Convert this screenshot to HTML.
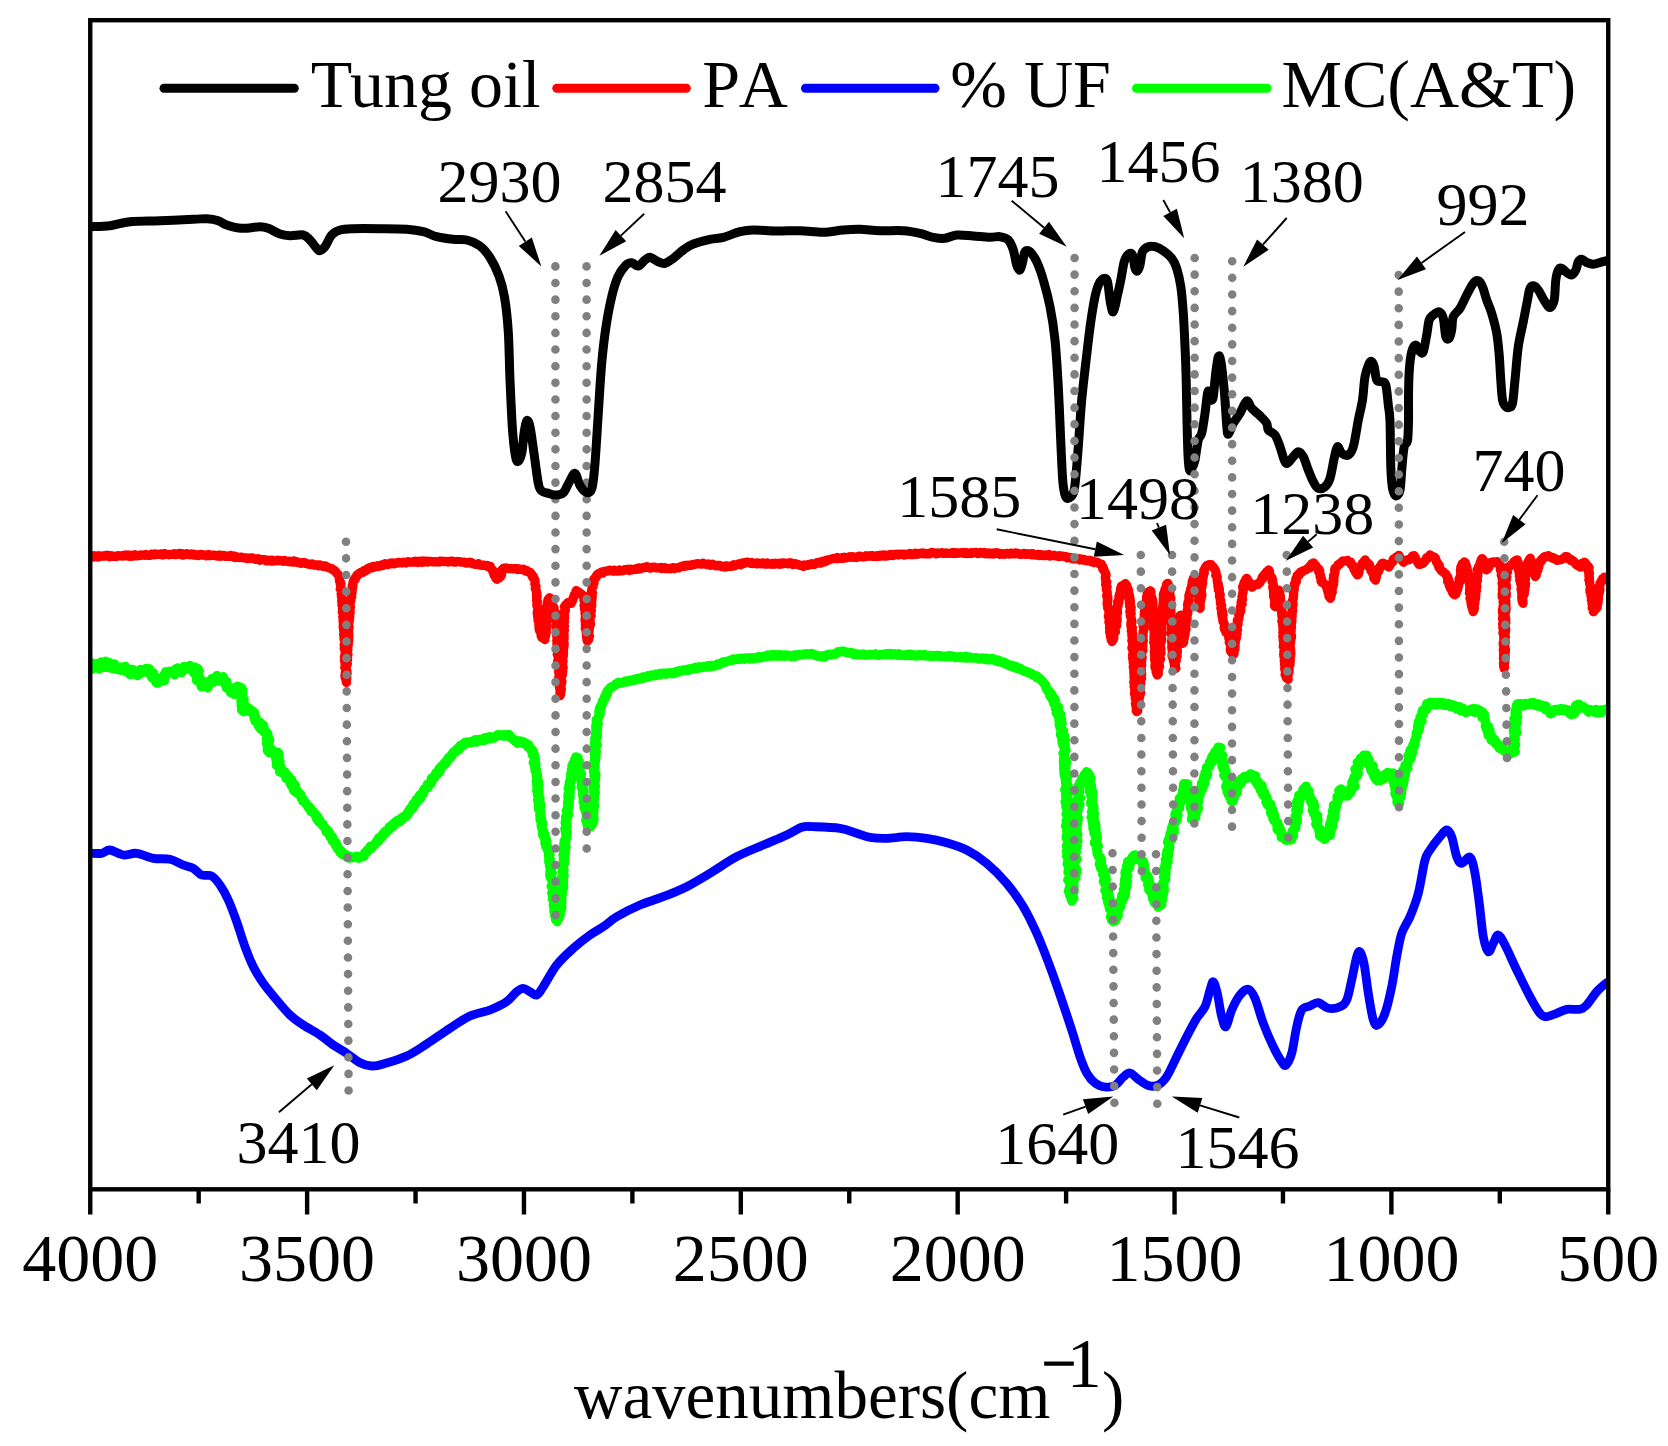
<!DOCTYPE html>
<html lang="en"><head><meta charset="utf-8"><title>FTIR spectra</title>
<style>html,body{margin:0;padding:0;background:#fff}body{width:1668px;height:1446px;overflow:hidden}</style></head>
<body>
<svg width="1668" height="1446" viewBox="0 0 1668 1446" style="display:block">
<rect width="1668" height="1446" fill="#fff"/>
<defs><clipPath id="cp"><rect x="90.25" y="20.20" width="1518.00" height="1169.10"/></clipPath></defs>
<g fill="none" stroke-linejoin="round" stroke-linecap="round" clip-path="url(#cp)">
<path d="M90.0,557.1L91.0,556.3L92.0,556.6L93.0,557.1L94.0,555.8L95.0,556.5L96.0,555.9L97.0,556.9L98.0,557.1L99.0,555.8L100.0,556.4L101.0,556.3L102.0,556.2L103.0,555.8L104.0,556.2L105.0,555.7L106.0,556.0L107.0,555.3L108.0,556.2L109.0,555.7L110.0,556.7L111.0,555.8L112.0,556.4L113.0,556.0L114.0,556.4L115.0,556.2L116.0,556.6L117.0,556.1L118.0,555.5L119.0,555.8L120.0,555.8L121.0,556.0L122.0,555.6L123.0,556.1L124.0,555.5L125.0,555.0L126.0,555.8L127.0,555.8L128.0,555.1L129.0,556.2L130.0,555.6L131.0,555.2L132.0,556.2L133.0,555.4L134.0,555.5L135.0,554.8L136.0,555.9L137.0,555.8L138.0,555.5L139.0,555.3L140.0,555.7L141.0,554.8L142.0,555.1L143.0,554.9L144.0,555.3L145.0,555.0L146.0,554.5L147.0,555.0L148.0,555.4L149.0,555.4L150.0,555.4L151.0,554.3L152.0,554.0L153.0,554.4L154.0,554.9L155.0,554.0L156.0,554.6L157.0,554.2L158.0,554.5L159.0,554.5L160.0,554.3L161.0,554.0L162.0,554.9L163.0,554.0L164.0,554.9L165.0,553.6L166.0,554.5L167.0,554.5L168.0,554.3L169.0,554.9L170.0,554.3L171.0,554.4L172.0,554.3L173.0,554.3L174.0,553.7L175.0,554.7L176.0,554.6L177.0,554.6L178.0,553.9L179.0,553.3L180.0,553.4L181.0,554.8L182.0,553.7L183.0,555.0L184.1,554.3L185.1,554.1L186.1,554.5L187.1,553.8L188.1,554.5L189.1,554.3L190.1,554.8L191.2,553.8L192.2,554.2L193.2,555.0L194.2,554.2L195.2,555.2L196.2,554.6L197.2,555.2L198.2,555.6L199.3,555.2L200.3,554.3L201.3,554.5L202.3,555.2L203.4,555.0L204.4,554.8L205.4,555.4L206.4,555.9L207.4,555.3L208.5,554.5L209.4,555.6L210.4,555.7L211.5,555.5L212.5,555.2L213.5,555.1L214.5,555.1L215.5,555.7L216.5,555.6L217.5,556.1L218.6,555.1L219.6,555.2L220.6,556.3L221.6,555.3L222.6,555.7L223.7,555.3L224.7,556.2L225.7,556.4L226.6,556.5L227.7,555.8L228.7,556.1L229.7,556.4L230.8,555.5L231.8,556.2L232.7,556.6L233.8,556.1L234.7,557.6L235.8,556.5L236.7,557.3L237.8,557.4L238.7,557.6L239.8,557.5L240.8,557.1L241.8,557.1L242.8,557.6L243.8,558.0L244.8,557.9L245.9,557.8L246.8,558.6L247.9,558.0L248.8,558.4L249.8,558.6L250.9,557.8L251.9,557.9L253.0,558.1L253.9,558.9L254.9,559.2L255.9,559.5L256.9,559.0L258.0,558.6L259.0,559.0L259.8,560.3L260.9,559.5L261.9,559.7L263.0,559.6L264.0,559.5L265.0,559.5L265.9,560.8L266.9,560.9L267.9,560.8L269.0,560.1L270.0,560.1L271.0,560.9L272.1,560.0L273.1,561.2L274.1,560.9L275.2,560.8L276.2,560.7L277.3,560.2L278.3,560.8L279.4,560.4L280.4,560.5L281.4,560.6L282.5,561.0L283.5,561.3L284.6,560.4L285.6,561.2L286.6,561.2L287.6,561.7L288.7,561.4L289.7,561.0L290.7,561.5L291.8,562.2L292.8,561.8L293.9,560.9L294.8,562.2L295.9,562.1L296.9,561.7L297.8,562.7L298.8,562.6L299.9,562.6L300.8,563.3L301.8,563.0L302.9,562.6L303.9,563.1L304.9,562.6L305.8,563.7L306.8,563.5L307.8,563.9L308.8,564.3L309.8,564.1L310.8,564.6L311.9,563.8L312.7,565.0L313.8,564.9L314.7,565.3L315.8,564.8L316.8,565.0L317.8,564.9L318.7,565.8L319.9,564.9L320.8,565.6L321.9,565.6L322.8,566.4L324.1,565.8L325.2,565.9L326.0,567.0L327.1,566.8L328.1,567.5L329.1,567.8L330.1,568.1L331.1,568.7L332.1,568.6L332.6,569.7L333.7,570.1L334.8,570.5L335.1,571.6L336.1,572.2L336.6,573.2L337.1,573.7L338.2,574.5L338.6,575.5L338.8,576.5L339.6,577.4L339.3,578.6L339.6,579.6L339.4,580.7L339.8,581.7L340.7,582.5L341.0,583.6L340.3,584.7L340.8,585.7L340.9,586.7L341.0,587.8L340.3,588.9L341.6,589.8L341.2,590.8L342.1,591.8L341.6,592.8L341.1,593.9L341.4,594.9L341.3,595.9L341.5,597.0L341.7,598.0L342.1,599.0L341.9,600.0L341.7,601.0L341.8,602.1L342.1,603.1L342.7,604.0L342.0,605.1L343.1,606.0L342.7,607.1L343.4,608.1L342.5,609.1L343.1,610.1L343.6,611.1L342.4,612.2L343.2,613.2L342.9,614.2L343.6,615.2L343.5,616.2L342.8,617.2L343.5,618.2L343.1,619.2L343.3,620.2L343.0,621.3L343.4,622.3L343.6,623.3L343.4,624.3L343.9,625.3L343.1,626.3L343.3,627.3L343.4,628.3L344.2,629.3L343.6,630.4L344.4,631.3L344.4,632.3L344.0,633.4L343.6,634.4L344.3,635.4L344.6,636.4L343.9,637.4L344.0,638.5L344.1,639.5L344.7,640.4L344.7,641.5L345.1,642.4L345.3,643.5L344.1,644.5L345.4,645.5L344.3,646.5L344.5,647.5L344.2,648.5L344.6,649.5L345.1,650.5L345.1,651.5L345.4,652.5L345.0,653.5L345.4,654.5L345.2,655.5L344.4,656.5L345.6,657.5L344.4,658.5L345.2,659.5L344.5,660.5L344.6,661.5L345.7,662.5L345.8,663.5L345.1,664.5L345.6,665.5L345.6,666.5L344.9,667.5L346.2,668.5L346.2,669.5L346.2,670.5L346.4,671.5L345.3,672.5L345.2,673.5L345.8,674.5L345.0,675.5L346.1,676.5L345.2,677.5L346.1,678.5L345.8,679.5L346.5,680.5L346.1,681.5L346.5,682.5L346.2,681.5L346.4,680.5L346.6,679.5L346.8,678.5L346.7,677.5L346.8,676.5L345.6,675.5L346.3,674.5L347.1,673.5L346.4,672.5L345.9,671.5L346.8,670.5L346.0,669.5L346.1,668.5L346.2,667.5L346.5,666.5L346.6,665.5L347.2,664.5L347.4,663.5L346.8,662.5L347.0,661.5L346.7,660.5L347.7,659.5L346.6,658.5L347.2,657.5L347.7,656.5L347.8,655.5L348.0,654.5L347.3,653.5L347.3,652.5L346.9,651.5L347.6,650.5L347.9,649.5L347.3,648.5L347.4,647.5L348.0,646.5L347.7,645.5L348.3,644.5L347.5,643.5L348.4,642.5L348.4,641.5L348.7,640.5L348.8,639.5L348.7,638.5L348.2,637.4L349.0,636.5L348.7,635.4L348.3,634.4L348.8,633.4L348.5,632.4L348.7,631.4L348.1,630.3L348.8,629.3L348.4,628.3L349.1,627.3L348.2,626.3L348.5,625.3L348.4,624.3L348.9,623.3L348.2,622.2L349.2,621.3L349.5,620.3L348.8,619.2L349.5,618.2L349.7,617.2L349.8,616.2L349.3,615.2L349.6,614.2L350.1,613.2L350.2,612.2L349.5,611.1L350.1,610.2L349.8,609.1L349.7,608.1L350.4,607.2L349.4,606.0L350.1,605.1L349.9,604.0L349.6,603.0L350.1,602.0L350.9,601.0L350.8,600.0L350.9,599.0L351.0,598.0L351.7,597.0L351.3,595.9L350.9,594.9L351.4,593.9L352.1,592.9L351.6,591.8L352.0,590.9L351.6,589.8L352.5,588.8L352.3,587.8L352.9,586.8L352.2,585.7L352.8,584.9L353.1,584.0L353.0,582.8L353.1,581.8L353.9,581.0L353.9,579.9L355.2,579.5L355.0,578.2L355.5,577.4L356.6,576.8L356.6,575.7L357.1,574.9L358.1,574.4L359.1,574.3L359.5,572.9L360.6,572.6L361.4,572.0L362.8,572.4L363.5,571.6L364.0,570.4L365.5,571.0L366.1,570.0L367.2,569.9L367.6,568.5L368.7,568.4L369.5,567.5L370.5,567.4L371.7,567.9L372.7,567.7L373.4,566.5L374.6,567.1L375.5,566.5L376.4,565.9L377.4,565.7L378.6,566.5L379.4,565.6L380.5,565.9L381.4,565.0L382.5,565.6L383.3,564.4L384.3,564.4L385.2,563.7L386.4,564.4L387.5,564.7L388.3,563.8L389.4,564.0L390.3,563.2L391.4,563.7L392.4,562.8L393.5,563.3L394.5,563.8L395.5,563.2L396.6,562.8L397.6,563.1L398.6,562.3L399.7,562.6L400.7,562.8L401.8,563.0L402.8,562.6L403.8,562.1L404.8,562.6L405.9,563.0L406.9,562.3L407.9,561.7L408.9,561.8L409.9,562.1L410.9,562.2L411.9,561.8L412.9,562.2L413.9,562.0L414.9,561.3L415.9,562.1L416.9,561.5L418.0,562.6L419.0,562.0L419.9,561.2L420.9,561.3L422.0,562.2L423.0,561.2L424.0,562.1L425.0,561.4L426.0,561.0L427.0,561.0L428.0,562.2L429.0,561.3L430.0,561.3L431.0,561.4L432.0,561.6L433.0,562.0L434.0,562.0L435.0,561.7L436.0,562.0L437.0,561.9L438.0,561.6L439.0,562.0L440.0,561.1L441.0,561.3L442.0,561.5L443.0,561.3L444.0,561.6L445.0,561.4L446.0,561.3L447.0,561.6L448.0,562.1L449.0,561.9L450.0,561.2L451.0,561.0L452.0,561.1L453.0,561.3L454.0,562.2L455.0,562.2L456.0,562.0L457.0,561.4L458.0,561.5L459.0,561.6L460.0,561.6L460.9,562.2L462.0,562.0L463.0,562.0L464.0,562.1L465.0,562.5L465.9,563.1L467.0,562.7L468.0,562.6L469.0,563.0L470.1,562.1L471.2,562.4L472.1,562.9L473.0,564.0L474.1,563.8L475.1,564.3L476.1,564.4L477.2,564.1L478.4,563.7L479.2,565.0L480.3,565.1L481.3,564.9L482.3,565.4L483.4,565.0L484.4,565.0L485.3,565.5L486.3,566.0L487.4,565.4L488.1,566.8L489.2,566.6L490.3,566.3L490.5,567.1L491.1,568.0L491.6,569.0L492.2,569.9L493.2,570.7L492.9,571.9L493.5,572.9L493.9,573.9L494.0,575.1L495.0,575.8L495.5,576.9L495.7,578.2L496.9,578.7L496.8,579.3L497.7,578.5L499.1,578.1L499.5,576.8L501.1,576.3L501.5,575.2L500.9,573.9L501.7,573.0L501.8,571.8L501.3,570.6L503.1,569.9L502.7,569.0L503.7,568.2L505.0,569.0L506.1,567.9L507.3,568.2L508.3,568.6L509.3,568.7L510.3,568.7L511.3,568.6L512.3,568.9L513.3,568.7L514.3,568.6L515.3,568.6L516.3,568.5L517.2,569.5L518.3,568.6L519.3,569.1L520.3,569.5L521.3,569.3L522.3,569.3L523.4,569.2L524.3,569.9L525.0,570.8L526.3,570.3L526.8,571.6L527.8,571.8L528.9,571.9L530.1,572.2L530.7,573.1L531.5,573.9L532.0,574.8L532.0,576.1L533.3,576.5L533.1,578.0L534.1,578.6L534.8,579.6L535.1,580.6L535.2,581.7L534.9,582.8L534.8,583.9L535.2,584.9L535.9,585.9L536.0,587.0L535.2,588.2L535.6,589.2L536.0,590.2L536.5,591.2L536.3,592.3L536.9,593.3L536.4,594.4L536.7,595.4L537.2,596.4L536.5,597.4L536.6,598.4L536.8,599.4L536.6,600.5L537.5,601.4L537.2,602.5L536.8,603.5L536.9,604.5L536.8,605.6L537.2,606.6L538.3,607.5L538.1,608.6L537.8,609.6L537.5,610.6L537.5,611.7L537.1,612.7L537.3,613.7L537.3,614.8L538.2,615.7L537.6,616.7L538.2,617.7L539.1,618.6L538.1,619.7L538.0,620.7L539.2,621.6L539.4,622.6L539.0,623.6L538.8,624.7L539.2,625.6L539.7,626.6L538.9,627.7L539.1,628.7L539.2,629.8L539.6,630.8L541.0,631.6L541.0,632.7L541.2,633.9L541.0,635.1L541.2,636.3L541.8,637.5L543.1,637.9L543.8,638.9L545.0,639.6L545.0,638.6L545.2,637.6L544.6,636.4L545.8,635.5L545.8,634.5L545.9,633.4L546.3,632.4L545.9,631.3L545.9,630.2L546.4,629.2L545.8,628.1L546.3,627.1L546.2,626.1L546.8,625.1L546.3,624.0L545.7,623.0L546.1,622.0L547.0,621.0L545.8,619.9L546.4,618.9L547.3,618.0L546.9,616.9L546.0,615.9L547.2,614.9L547.4,613.9L546.9,612.8L546.3,611.8L547.5,610.8L546.3,609.8L547.2,608.8L546.5,607.7L546.9,606.7L546.8,605.7L547.9,604.9L547.0,603.6L548.3,602.9L547.6,601.7L548.1,600.8L547.9,599.7L549.1,599.0L549.5,597.7L549.2,599.0L549.9,599.9L550.6,600.7L551.3,601.6L551.7,602.6L552.1,603.5L551.7,604.9L552.1,605.9L553.3,606.5L553.9,607.5L554.1,608.5L553.9,609.7L554.1,610.8L554.5,611.8L555.3,612.6L556.0,613.5L556.2,614.7L555.9,615.7L556.6,616.7L556.4,617.8L556.2,618.8L556.8,619.9L556.9,620.9L556.0,622.0L556.3,623.0L556.5,624.0L556.5,625.1L556.0,626.1L555.9,627.2L556.4,628.2L556.6,629.2L556.4,630.3L556.6,631.3L556.2,632.4L556.7,633.4L556.3,634.4L557.2,635.4L556.8,636.5L557.2,637.5L557.4,638.5L556.8,639.6L556.8,640.7L557.3,641.7L557.0,642.7L556.9,643.8L557.1,644.8L557.7,645.8L557.8,646.8L557.2,647.9L558.0,648.9L558.3,649.9L557.4,651.0L557.5,652.1L557.6,653.1L557.2,654.2L558.3,655.1L557.9,656.2L558.1,657.2L558.2,658.3L558.2,659.3L558.7,660.3L557.6,661.4L558.1,662.4L558.7,663.4L558.8,664.5L557.8,665.6L558.0,666.6L558.4,667.6L558.7,668.6L559.4,669.7L558.7,670.7L558.7,671.8L558.7,672.8L559.1,673.8L559.2,674.9L559.3,675.9L559.2,676.9L558.6,678.0L558.8,679.0L559.4,680.1L559.5,681.1L559.3,682.1L559.9,683.1L558.6,684.2L560.2,685.2L559.3,686.3L560.1,687.3L559.6,688.4L560.4,689.3L560.3,690.4L560.3,691.4L560.4,692.4L560.6,693.5L560.6,694.5L560.2,695.6L560.2,694.6L559.9,693.5L560.8,692.6L560.0,691.5L560.1,690.5L561.4,689.6L561.3,688.6L560.2,687.5L560.7,686.5L560.9,685.6L561.4,684.6L560.7,683.5L560.8,682.5L561.9,681.6L561.2,680.5L561.4,679.5L560.8,678.5L561.1,677.5L561.6,676.5L562.1,675.6L562.5,674.6L561.9,673.5L562.5,672.6L562.8,671.6L561.7,670.5L562.7,669.5L562.5,668.5L563.2,667.6L562.5,666.5L562.5,665.5L562.7,664.5L562.1,663.5L562.7,662.5L563.1,661.5L562.7,660.5L562.3,659.4L562.9,658.4L563.0,657.4L563.3,656.4L562.7,655.4L563.5,654.4L563.6,653.4L562.6,652.4L563.2,651.4L563.6,650.4L563.0,649.3L563.4,648.3L564.0,647.3L563.7,646.3L563.3,645.3L564.1,644.3L563.0,643.3L564.1,642.3L563.0,641.2L563.3,640.2L563.4,639.2L564.1,638.2L562.9,637.2L563.0,636.2L564.2,635.2L563.2,634.2L563.6,633.2L563.9,632.2L564.0,631.1L564.5,630.2L563.9,629.1L563.8,628.1L563.4,627.1L564.4,626.1L563.5,625.0L563.8,623.9L563.8,622.9L564.4,621.9L563.7,620.8L563.9,619.8L564.5,618.7L564.7,617.7L563.9,616.6L564.6,615.6L563.9,614.5L564.6,613.5L563.9,612.4L564.9,611.4L565.4,610.4L565.3,609.3L564.8,608.2L564.4,606.9L565.5,606.4L565.4,605.1L566.3,604.4L567.5,604.0L567.8,602.5L568.9,603.6L570.2,603.4L571.2,603.4L571.4,602.3L572.3,601.4L572.6,600.3L573.1,599.3L573.0,598.1L573.5,597.1L574.4,596.2L574.2,595.0L575.4,594.4L575.4,593.3L575.8,592.4L575.8,591.3L576.3,590.6L577.0,591.4L578.1,591.7L579.0,592.2L579.7,593.1L580.8,593.5L581.4,594.4L582.4,594.9L582.8,595.9L584.2,596.1L584.7,597.3L584.7,598.3L583.9,599.4L583.9,600.4L584.7,601.4L585.3,602.4L585.4,603.4L584.8,604.5L584.0,605.6L585.2,606.5L585.1,607.6L584.4,608.6L585.3,609.6L585.2,610.7L585.0,611.7L585.1,612.7L585.0,613.7L585.5,614.8L586.0,615.8L585.8,616.8L585.1,617.9L585.2,618.9L585.0,619.9L585.0,621.0L585.3,622.0L585.9,623.0L586.2,624.0L585.3,625.1L586.4,626.0L585.9,627.1L585.3,628.2L586.4,629.2L586.5,630.2L586.0,631.3L586.7,632.3L586.5,633.4L586.3,634.5L586.9,635.5L586.6,636.6L586.6,637.6L587.2,638.7L586.9,639.7L587.4,641.1L587.3,639.7L588.8,639.5L588.5,638.3L588.6,637.3L589.6,636.3L588.5,635.2L588.5,634.2L588.9,633.1L588.5,632.1L589.2,631.1L589.2,630.1L589.3,629.0L589.2,628.0L589.6,627.0L589.8,626.0L589.6,624.9L590.6,624.0L590.2,622.9L589.9,621.9L590.1,620.9L590.1,619.8L589.9,618.8L589.8,617.7L590.0,616.7L591.1,615.8L590.4,614.7L590.5,613.7L590.9,612.6L590.7,611.6L591.4,610.6L590.5,609.5L591.2,608.5L590.5,607.4L591.6,606.4L591.3,605.4L591.8,604.4L590.6,603.3L591.1,602.2L591.1,601.2L591.9,600.2L591.2,599.1L591.4,598.1L592.2,597.1L591.2,596.0L591.8,595.0L592.1,594.0L592.6,593.0L591.4,591.8L591.6,590.8L591.7,589.7L591.9,588.7L592.2,587.7L593.1,586.8L592.4,585.6L592.7,584.6L593.3,583.7L594.1,582.8L593.7,581.6L593.5,580.5L593.7,579.5L594.4,578.5L595.1,577.7L596.3,577.3L596.3,575.9L596.9,575.0L597.7,574.2L598.6,573.6L599.7,573.6L600.5,572.4L601.5,572.0L602.9,573.0L603.8,572.2L604.7,571.2L605.8,571.2L606.9,571.1L607.9,571.2L609.0,570.3L610.0,570.2L611.1,570.8L612.1,571.0L613.2,571.2L614.2,570.0L615.3,571.1L616.3,571.1L617.3,570.9L618.4,571.1L619.4,570.0L620.5,570.8L621.5,570.5L622.6,570.8L623.6,570.4L624.7,569.6L625.7,569.5L626.8,569.9L627.8,569.2L629.0,570.6L630.0,569.8L630.9,569.1L632.1,569.8L633.2,569.7L634.2,569.2L635.2,569.3L636.3,569.4L637.2,568.2L638.4,569.2L639.3,567.9L640.5,568.8L641.5,568.2L642.5,567.8L643.5,567.4L644.6,567.7L645.7,567.5L646.7,566.6L647.7,567.0L648.7,567.3L649.7,568.1L650.8,568.1L651.8,567.5L652.9,567.0L653.9,567.5L654.9,567.2L655.9,567.9L656.9,568.0L657.9,568.0L659.0,567.8L660.0,567.6L661.0,567.3L662.0,568.5L663.1,567.7L664.1,568.5L665.1,567.8L666.1,568.7L667.1,568.7L668.2,568.5L669.2,568.4L670.2,568.9L671.2,568.6L672.3,567.7L673.2,567.6L674.4,568.7L675.3,568.0L676.3,567.9L677.3,567.7L678.4,568.0L679.3,567.3L680.2,567.1L681.1,566.4L682.1,566.0L683.2,566.4L684.2,566.5L685.0,565.4L686.0,565.3L687.2,565.9L688.1,565.2L689.1,565.3L690.2,565.5L691.2,565.4L692.1,564.7L693.0,564.4L694.1,564.7L695.1,564.4L696.0,564.0L697.0,563.7L698.0,563.5L699.1,564.0L699.9,563.8L700.9,564.1L702.0,564.1L703.1,563.2L704.1,564.0L705.1,564.0L706.1,564.3L707.1,564.7L708.3,564.0L709.2,564.8L710.2,565.3L711.2,565.2L712.4,564.3L713.3,565.1L714.4,564.8L715.4,565.7L716.4,565.9L717.4,565.7L718.5,565.3L719.6,565.3L720.5,566.1L721.5,566.6L722.6,566.2L723.6,566.6L724.6,567.1L725.8,566.0L726.7,566.8L727.6,566.0L728.7,566.4L729.8,566.5L730.7,566.1L731.7,565.8L732.8,566.1L733.6,564.7L734.8,565.7L735.7,564.9L736.7,564.5L737.7,564.5L738.6,563.9L739.6,563.8L740.9,564.8L741.8,564.3L742.6,562.9L743.7,563.3L744.7,563.3L745.6,562.4L746.7,562.6L747.8,562.1L748.8,562.4L749.8,562.8L750.8,563.3L751.8,562.5L752.8,563.6L753.9,563.2L754.9,563.4L755.9,563.0L756.9,563.9L758.0,563.1L759.0,563.2L760.0,563.8L761.0,563.0L762.1,563.0L763.1,562.9L764.1,564.1L765.1,563.8L766.1,564.2L767.2,562.9L768.2,564.0L769.2,563.5L770.2,563.9L771.2,564.3L772.3,563.3L773.3,563.5L774.4,564.2L775.4,563.2L776.4,563.9L777.5,563.4L778.5,563.4L779.6,564.3L780.6,563.4L781.6,562.9L782.7,563.8L783.7,562.9L784.8,563.3L785.8,563.0L786.9,563.0L787.9,563.9L789.0,563.6L790.1,562.7L791.1,563.0L792.0,563.7L792.9,564.7L794.2,563.6L795.2,563.7L796.3,564.0L797.2,564.3L798.3,564.5L799.2,565.1L800.2,565.4L801.3,565.3L802.3,565.7L803.4,566.5L804.1,565.0L805.2,565.2L806.2,565.1L807.3,565.5L808.3,565.5L809.1,564.3L810.1,564.2L811.1,564.3L812.0,563.6L813.2,564.3L814.2,564.5L815.1,563.7L816.1,563.4L816.9,562.7L818.0,562.9L819.1,563.2L819.8,562.0L821.1,562.9L821.9,562.1L822.7,561.2L823.8,561.6L825.0,561.8L825.8,561.2L826.5,560.1L827.6,560.3L828.5,559.8L829.6,559.8L830.5,559.3L831.4,558.9L832.5,559.0L833.3,558.6L834.3,558.5L835.4,558.7L836.4,557.9L837.4,557.4L838.5,558.6L839.5,558.4L840.5,558.0L841.6,558.5L842.5,557.5L843.6,558.2L844.6,557.2L845.6,557.9L846.7,557.9L847.7,557.3L848.7,557.2L849.7,556.7L850.8,557.4L851.8,556.8L852.8,556.7L853.9,557.3L854.9,557.0L855.9,557.0L857.0,557.5L858.0,557.0L858.9,556.3L860.0,556.0L861.0,556.7L862.0,556.9L863.0,557.0L864.1,557.0L865.1,556.8L866.0,555.7L867.1,556.2L868.1,556.0L869.1,555.8L870.1,556.2L871.1,555.6L872.1,555.7L873.1,556.4L874.1,556.1L875.2,556.3L876.1,556.0L877.1,555.6L878.2,556.5L879.2,556.1L880.2,555.2L881.2,556.1L882.2,555.6L883.2,555.0L884.2,555.9L885.2,555.2L886.3,556.0L887.2,555.1L888.3,555.3L889.3,555.6L890.2,554.5L891.3,554.8L892.3,554.7L893.3,555.6L894.3,554.3L895.3,554.5L896.3,554.7L897.3,554.1L898.4,554.9L899.3,554.1L900.4,554.5L901.4,554.2L902.4,554.0L903.5,555.1L904.4,554.5L905.5,554.9L906.4,554.1L907.5,554.6L908.5,554.2L909.5,553.6L910.5,554.7L911.5,553.5L912.6,554.7L913.6,554.7L914.6,554.2L915.5,553.4L916.6,554.4L917.6,553.8L918.6,554.1L919.6,553.5L920.6,553.2L921.6,553.6L922.6,552.9L923.7,553.2L924.7,553.9L925.7,553.4L926.7,553.7L927.7,553.9L928.7,553.4L929.7,553.9L930.7,553.2L931.7,552.4L932.7,552.7L933.8,553.0L934.8,552.8L935.8,553.8L936.8,553.0L937.8,552.9L938.8,553.3L939.8,553.2L940.8,553.1L941.8,552.6L942.9,553.5L943.9,553.4L944.9,553.1L945.9,552.8L946.9,553.5L947.9,553.4L948.9,553.4L949.9,553.1L950.9,552.8L951.9,553.4L952.9,552.3L954.0,553.4L955.0,553.3L956.0,552.7L957.0,553.3L958.0,552.8L959.0,553.2L960.0,552.8L961.0,552.9L962.0,552.5L963.0,553.3L964.0,553.5L965.1,552.3L966.1,552.6L967.1,553.5L968.1,553.2L969.1,553.2L970.1,553.6L971.1,552.8L972.1,553.4L973.1,552.6L974.1,552.7L975.1,552.6L976.2,552.3L977.1,553.4L978.2,553.6L979.2,553.4L980.2,552.3L981.2,552.5L982.2,553.2L983.2,552.8L984.2,552.5L985.2,553.8L986.2,553.5L987.3,552.9L988.2,553.9L989.3,552.9L990.3,553.3L991.3,553.8L992.3,553.2L993.3,554.1L994.3,552.9L995.3,553.5L996.4,552.7L997.4,552.8L998.4,553.1L999.4,554.2L1000.4,553.5L1001.4,554.1L1002.4,553.6L1003.4,553.5L1004.4,554.3L1005.4,553.9L1006.5,553.4L1007.5,553.3L1008.5,554.0L1009.5,554.2L1010.5,553.1L1011.5,553.2L1012.5,553.5L1013.5,553.9L1014.6,553.9L1015.6,553.0L1016.6,553.7L1017.6,553.2L1018.6,553.4L1019.6,554.3L1020.6,554.3L1021.6,554.2L1022.6,554.2L1023.7,553.4L1024.7,553.3L1025.7,554.4L1026.7,554.4L1027.7,553.7L1028.7,553.9L1029.7,554.4L1030.8,553.8L1031.7,555.0L1032.8,553.7L1033.7,555.0L1034.8,554.8L1035.7,555.1L1036.8,554.7L1037.8,554.4L1038.8,554.3L1039.8,555.6L1040.8,554.7L1041.8,554.8L1042.8,555.3L1043.8,555.6L1044.9,555.0L1045.8,555.5L1046.9,554.9L1047.9,555.1L1048.9,554.6L1049.9,556.0L1050.9,555.7L1051.9,555.6L1052.9,555.6L1054.0,555.1L1054.9,555.8L1056.0,555.8L1057.0,556.0L1058.0,556.4L1058.9,556.7L1060.0,555.7L1061.0,556.3L1062.2,556.0L1063.2,556.2L1064.2,556.5L1065.3,556.6L1066.3,556.7L1067.2,557.8L1068.4,557.4L1069.5,557.3L1070.5,557.6L1071.5,557.8L1072.4,558.9L1073.6,558.5L1074.5,559.1L1075.7,558.8L1076.7,558.8L1077.8,558.9L1078.9,558.7L1079.8,559.8L1081.0,558.9L1081.9,559.5L1082.9,560.1L1084.1,559.4L1085.0,560.0L1086.0,560.7L1087.0,560.9L1088.2,560.3L1089.2,560.6L1090.3,560.3L1091.1,561.8L1092.2,561.6L1093.3,561.4L1094.1,562.6L1095.3,562.3L1096.5,562.0L1097.6,562.2L1098.4,563.0L1099.3,563.8L1100.3,564.3L1101.4,564.0L1101.7,565.1L1102.5,565.9L1102.8,566.9L1103.4,567.8L1102.8,569.1L1103.8,569.9L1104.5,570.8L1104.7,571.9L1105.4,572.7L1105.7,573.7L1106.1,574.9L1106.0,575.9L1105.3,577.0L1105.4,578.0L1105.5,579.0L1105.5,580.0L1106.1,581.0L1106.8,581.9L1106.0,583.0L1105.6,584.0L1105.7,585.0L1106.5,586.0L1107.1,586.9L1106.5,588.0L1106.3,589.0L1106.5,590.0L1107.0,591.0L1107.1,592.0L1107.3,593.0L1107.0,594.0L1106.9,595.0L1106.6,596.0L1107.9,596.9L1107.8,598.0L1107.9,599.0L1107.3,600.0L1107.9,601.0L1107.8,602.0L1107.1,603.1L1107.1,604.1L1107.3,605.0L1107.5,606.0L1108.3,607.0L1107.7,608.0L1108.7,609.0L1108.8,610.0L1108.8,611.0L1108.9,612.0L1109.1,613.0L1109.4,614.0L1108.5,615.1L1108.3,616.1L1108.9,617.1L1108.8,618.1L1109.5,619.1L1109.3,620.1L1109.8,621.1L1108.9,622.2L1109.2,623.2L1109.9,624.1L1110.1,625.1L1110.1,626.1L1109.5,627.2L1109.6,628.2L1110.6,629.1L1110.2,630.2L1109.6,631.3L1109.6,632.3L1110.8,633.2L1110.2,634.3L1111.0,635.2L1110.4,636.3L1111.0,637.3L1111.3,638.0L1111.1,639.6L1111.7,640.7L1112.1,641.6L1112.2,640.6L1113.3,639.8L1112.8,638.6L1113.8,637.8L1112.9,636.5L1113.3,635.6L1113.7,634.6L1114.3,633.7L1114.6,632.7L1115.5,631.9L1115.2,630.8L1114.6,629.6L1115.0,628.6L1115.5,627.7L1116.0,626.7L1116.6,625.8L1115.5,624.7L1116.6,623.7L1116.2,622.7L1116.2,621.7L1117.2,620.8L1117.0,619.8L1117.2,618.8L1117.0,617.7L1116.6,616.7L1116.4,615.7L1116.6,614.7L1117.2,613.7L1117.6,612.7L1116.7,611.6L1116.8,610.6L1117.5,609.7L1117.1,608.6L1117.4,607.7L1117.3,606.7L1118.1,605.7L1117.5,604.6L1117.9,603.7L1118.8,602.8L1117.7,601.6L1118.5,600.7L1118.7,599.7L1119.2,598.8L1119.9,597.9L1118.8,596.6L1120.4,595.9L1119.5,594.6L1119.6,593.6L1120.0,592.6L1120.3,591.6L1120.5,590.6L1121.3,589.8L1120.7,588.6L1122.1,587.8L1121.3,586.2L1123.0,586.5L1123.1,585.1L1124.6,585.2L1125.1,584.2L1125.3,583.5L1125.9,584.4L1126.7,585.2L1127.0,586.2L1126.7,587.4L1127.0,588.5L1128.3,589.2L1128.5,590.2L1128.6,591.3L1128.8,592.3L1128.8,593.3L1128.7,594.4L1129.5,595.3L1129.7,596.3L1128.9,597.4L1129.8,598.3L1130.2,599.3L1129.4,600.4L1130.5,601.3L1129.5,602.4L1130.5,603.4L1129.4,604.5L1130.4,605.4L1129.6,606.5L1131.1,607.4L1130.6,608.5L1131.1,609.4L1130.4,610.5L1129.8,611.6L1130.9,612.5L1131.2,613.5L1130.7,614.6L1130.2,615.6L1131.0,616.6L1131.1,617.6L1131.1,618.6L1131.6,619.6L1131.9,620.6L1131.1,621.7L1131.8,622.6L1130.8,623.7L1130.8,624.7L1131.0,625.7L1131.0,626.7L1132.3,627.7L1131.6,628.7L1132.2,629.7L1131.4,630.8L1132.4,631.7L1132.4,632.7L1132.9,633.7L1131.8,634.8L1132.4,635.8L1132.0,636.8L1132.9,637.8L1132.6,638.8L1132.7,639.8L1131.8,640.9L1133.0,641.8L1132.5,642.8L1133.1,643.8L1133.1,644.8L1132.8,645.9L1132.1,646.9L1131.9,647.9L1132.2,648.9L1133.2,649.9L1133.5,650.9L1133.1,651.9L1133.5,652.9L1132.8,654.0L1132.6,655.0L1132.7,656.0L1133.2,657.0L1132.6,658.0L1133.9,659.0L1133.0,660.0L1133.1,661.0L1133.3,662.0L1133.2,663.0L1133.7,664.0L1133.9,665.0L1133.5,666.1L1133.2,667.1L1133.5,668.1L1134.4,669.0L1134.3,670.1L1133.8,671.1L1134.4,672.1L1133.8,673.1L1134.0,674.1L1134.0,675.1L1134.2,676.1L1133.9,677.2L1134.1,678.2L1134.4,679.2L1134.5,680.2L1134.4,681.2L1133.8,682.2L1135.0,683.2L1134.4,684.2L1135.1,685.2L1134.0,686.3L1135.1,687.2L1135.1,688.2L1135.1,689.2L1134.6,690.3L1135.3,691.3L1135.4,692.3L1134.4,693.4L1134.6,694.4L1136.0,695.3L1135.8,696.3L1135.2,697.4L1135.2,698.5L1135.7,699.4L1136.6,700.4L1136.6,701.4L1136.3,702.5L1135.5,703.6L1136.5,704.5L1136.6,705.5L1135.9,706.6L1136.3,707.6L1137.1,708.6L1137.1,709.6L1136.2,710.8L1136.8,711.7L1137.8,710.8L1137.5,709.7L1137.2,708.6L1137.1,707.5L1138.4,706.7L1138.2,705.6L1137.8,704.5L1139.1,703.6L1139.2,702.6L1139.2,701.6L1138.5,700.4L1138.5,699.3L1139.2,698.4L1139.3,697.4L1139.8,696.4L1139.2,695.3L1139.7,694.3L1140.7,693.3L1140.8,692.3L1140.1,691.3L1139.7,690.3L1140.2,689.3L1140.2,688.3L1140.1,687.3L1140.3,686.3L1140.2,685.3L1140.7,684.3L1140.7,683.3L1140.5,682.3L1140.2,681.3L1140.3,680.3L1141.3,679.3L1141.6,678.3L1140.6,677.3L1140.4,676.3L1141.0,675.3L1141.7,674.3L1141.6,673.3L1141.2,672.3L1141.0,671.3L1141.5,670.3L1141.2,669.3L1141.1,668.3L1140.6,667.3L1141.4,666.3L1141.7,665.3L1141.4,664.3L1141.0,663.3L1141.7,662.3L1141.7,661.3L1141.6,660.3L1141.9,659.3L1142.0,658.3L1142.2,657.3L1141.1,656.3L1141.6,655.3L1141.7,654.3L1141.8,653.3L1141.7,652.3L1141.9,651.3L1143.0,650.3L1142.8,649.3L1141.7,648.3L1142.4,647.3L1142.9,646.3L1141.7,645.3L1141.9,644.3L1142.7,643.3L1143.1,642.3L1142.1,641.2L1143.4,640.3L1142.3,639.2L1142.2,638.2L1143.0,637.2L1143.1,636.2L1143.1,635.2L1142.8,634.2L1143.1,633.2L1143.4,632.2L1143.2,631.2L1143.8,630.2L1143.9,629.2L1144.0,628.2L1144.2,627.2L1143.2,626.1L1144.0,625.1L1144.1,624.1L1143.6,623.1L1144.6,622.1L1143.5,621.1L1144.0,620.1L1143.7,619.0L1144.9,618.1L1144.3,617.1L1144.7,616.1L1144.2,615.0L1145.2,614.1L1144.4,613.0L1144.3,612.0L1144.5,611.0L1144.9,610.0L1145.6,609.0L1145.1,607.9L1145.8,606.9L1145.8,605.9L1145.7,604.8L1145.4,603.7L1145.9,602.7L1146.1,601.6L1146.5,600.6L1146.4,599.5L1147.0,598.6L1146.5,597.4L1147.1,596.4L1147.7,595.5L1147.1,594.3L1147.7,593.5L1148.0,592.1L1149.2,591.6L1150.5,590.7L1150.9,591.6L1151.1,592.6L1150.6,593.8L1150.3,594.9L1151.0,595.8L1151.6,596.7L1150.9,597.9L1152.0,598.7L1151.6,599.8L1152.8,600.6L1152.4,601.7L1152.3,602.7L1153.1,603.7L1152.6,604.7L1152.2,605.8L1153.1,606.7L1152.7,607.8L1152.4,608.8L1153.6,609.7L1152.3,610.8L1153.7,611.8L1153.7,612.8L1153.0,613.8L1153.1,614.8L1152.6,615.9L1152.8,616.9L1153.7,617.8L1153.8,618.8L1153.4,619.9L1152.9,620.9L1153.8,621.9L1154.0,622.9L1154.0,623.9L1153.4,624.9L1153.2,625.9L1153.5,626.9L1153.1,628.0L1154.5,628.9L1154.0,630.0L1154.5,630.9L1154.0,632.0L1154.6,633.0L1154.1,634.0L1154.6,635.0L1154.0,636.0L1154.1,637.0L1153.9,638.0L1154.0,639.1L1154.0,640.1L1155.1,641.0L1153.7,642.1L1155.3,643.0L1154.3,644.1L1154.3,645.1L1154.5,646.1L1154.5,647.1L1155.2,648.1L1155.1,649.1L1154.7,650.1L1154.4,651.2L1154.3,652.2L1154.5,653.2L1154.8,654.2L1154.4,655.2L1155.3,656.2L1154.8,657.2L1155.4,658.2L1154.5,659.3L1154.8,660.3L1155.6,661.2L1155.1,662.3L1155.6,663.3L1155.1,664.3L1154.9,665.3L1155.1,666.3L1154.9,667.3L1156.3,668.2L1156.5,669.3L1156.6,670.5L1156.0,671.8L1156.4,672.9L1156.9,674.0L1157.3,675.0L1158.1,674.1L1158.4,673.1L1157.4,671.9L1158.2,671.0L1157.9,669.9L1158.7,669.0L1158.8,668.0L1158.9,667.0L1159.6,666.1L1158.9,665.0L1159.3,664.0L1159.1,662.9L1159.1,661.9L1159.4,660.9L1159.4,660.0L1160.6,659.0L1159.6,657.9L1159.5,656.9L1159.7,655.9L1160.2,654.9L1160.4,653.9L1161.2,652.9L1159.8,651.8L1160.2,650.8L1160.8,649.8L1161.1,648.8L1160.1,647.8L1160.1,646.8L1160.0,645.7L1160.3,644.7L1160.4,643.7L1161.0,642.7L1160.5,641.7L1161.6,640.7L1161.0,639.7L1161.7,638.7L1161.1,637.6L1160.9,636.6L1160.7,635.6L1161.4,634.6L1162.1,633.6L1161.9,632.6L1161.4,631.5L1161.0,630.5L1161.5,629.5L1161.3,628.5L1162.0,627.5L1162.0,626.5L1161.4,625.4L1161.6,624.4L1162.3,623.4L1161.3,622.3L1161.7,621.3L1162.2,620.3L1162.0,619.3L1161.7,618.3L1161.9,617.3L1161.6,616.3L1162.2,615.3L1163.0,614.4L1162.8,613.3L1162.7,612.3L1162.3,611.3L1162.7,610.3L1163.0,609.3L1162.9,608.3L1162.6,607.3L1163.0,606.3L1162.7,605.3L1162.9,604.3L1163.0,603.3L1163.8,602.3L1163.3,601.3L1163.4,600.3L1163.2,599.3L1163.3,598.3L1164.0,597.3L1164.2,596.3L1163.3,595.2L1163.3,594.2L1164.0,593.2L1164.1,592.2L1165.3,591.4L1165.7,590.5L1165.1,589.2L1166.3,588.5L1166.4,587.4L1166.8,586.4L1166.4,585.1L1166.6,584.1L1167.7,583.3L1168.2,584.2L1168.3,585.2L1168.6,586.2L1168.1,587.4L1168.6,588.3L1169.6,589.1L1169.8,590.2L1170.0,591.2L1169.5,592.4L1169.4,593.3L1169.6,594.3L1170.1,595.3L1170.2,596.3L1169.6,597.4L1170.9,598.3L1170.6,599.4L1170.3,600.4L1169.8,601.4L1170.9,602.4L1170.5,603.4L1171.1,604.4L1170.1,605.5L1171.0,606.4L1170.0,607.5L1171.0,608.5L1170.0,609.5L1170.8,610.5L1171.1,611.5L1170.7,612.5L1170.2,613.6L1170.7,614.6L1170.9,615.6L1171.1,616.6L1171.1,617.6L1170.5,618.6L1170.7,619.6L1171.2,620.6L1170.9,621.6L1171.2,622.7L1171.3,623.7L1171.6,624.7L1171.7,625.7L1171.6,626.7L1171.9,627.7L1172.0,628.7L1171.2,629.7L1171.5,630.7L1171.1,631.8L1172.4,632.7L1171.2,633.8L1172.0,634.8L1172.2,635.8L1171.9,636.8L1172.6,637.8L1172.5,638.8L1172.5,639.8L1171.5,640.9L1171.5,641.9L1172.2,642.8L1172.9,643.8L1172.6,644.8L1171.8,645.9L1171.7,646.9L1171.8,647.9L1172.5,648.9L1172.0,649.9L1172.5,650.9L1172.6,651.9L1172.3,653.0L1172.1,654.0L1172.3,655.0L1172.0,656.0L1173.1,657.0L1173.0,658.0L1173.0,659.0L1173.7,659.8L1173.4,661.0L1174.0,662.0L1174.5,662.9L1174.2,664.1L1174.5,665.1L1175.2,666.1L1174.4,667.3L1175.8,668.4L1174.4,667.2L1175.3,666.3L1175.5,665.3L1174.9,664.2L1175.2,663.3L1175.0,662.2L1175.6,661.3L1176.3,660.4L1175.8,659.3L1176.1,658.3L1176.6,657.3L1177.1,656.4L1176.2,655.3L1176.9,654.3L1176.0,653.3L1177.3,652.4L1177.5,651.4L1176.5,650.3L1176.3,649.2L1177.1,648.3L1177.5,647.3L1177.6,646.3L1177.2,645.3L1176.9,644.2L1176.9,643.3L1177.0,642.3L1176.9,641.3L1177.3,640.3L1177.7,639.3L1177.9,638.3L1178.6,637.3L1178.2,636.3L1178.0,635.3L1178.2,634.3L1178.6,633.3L1177.9,632.3L1178.1,631.3L1177.7,630.3L1178.0,629.3L1177.8,628.3L1178.1,627.3L1178.6,626.3L1179.3,625.3L1178.9,624.3L1178.6,623.3L1179.4,622.3L1178.5,621.3L1178.9,620.3L1179.6,619.3L1178.6,618.0L1179.4,617.0L1179.7,615.8L1181.0,615.0L1181.3,616.0L1180.8,617.0L1181.5,618.0L1181.3,619.0L1181.8,620.0L1182.0,621.0L1182.1,622.0L1182.0,623.0L1181.0,624.2L1181.8,625.1L1182.4,626.1L1181.9,627.1L1182.1,628.1L1182.3,629.1L1182.6,630.1L1182.6,631.1L1181.7,632.2L1182.7,633.2L1183.1,634.1L1182.6,635.2L1183.3,636.2L1183.2,637.2L1182.5,638.3L1182.3,639.3L1183.5,640.2L1183.5,641.2L1183.7,642.2L1183.0,643.3L1182.8,642.2L1183.0,641.1L1183.6,640.2L1184.0,639.2L1184.2,638.1L1183.7,637.0L1184.6,636.1L1184.3,635.0L1185.2,634.0L1185.0,632.9L1185.2,631.9L1185.5,630.9L1185.1,629.8L1186.1,628.9L1185.3,627.7L1185.7,626.7L1185.8,625.7L1185.3,624.6L1185.6,623.6L1186.9,622.8L1186.7,621.7L1187.1,620.8L1187.0,619.8L1186.5,618.7L1187.2,617.7L1186.8,616.7L1186.5,615.7L1186.6,614.7L1187.7,613.8L1187.7,612.8L1188.0,611.8L1187.5,610.7L1187.3,609.7L1188.3,608.8L1188.1,607.7L1188.3,606.8L1187.6,605.7L1187.5,604.6L1188.8,603.8L1187.9,602.7L1188.5,601.7L1189.1,600.8L1189.2,599.8L1188.8,598.7L1188.9,597.7L1189.0,596.7L1188.8,595.7L1190.1,594.9L1189.4,593.7L1189.7,592.8L1191.0,592.0L1191.0,591.0L1190.8,589.9L1190.6,588.9L1191.5,588.0L1191.2,587.0L1191.5,586.0L1191.7,585.0L1192.6,584.0L1192.3,582.8L1192.1,581.6L1192.6,580.5L1193.5,579.5L1193.3,578.4L1194.1,579.4L1195.4,579.2L1196.4,579.7L1197.6,580.0L1197.0,581.1L1198.2,582.0L1197.2,583.1L1197.4,584.1L1198.6,585.0L1197.7,586.1L1198.3,587.1L1198.4,588.1L1198.2,589.1L1199.0,590.1L1197.9,591.2L1197.9,592.2L1199.3,593.1L1198.4,594.2L1199.5,595.1L1199.0,596.2L1198.8,597.2L1198.7,598.2L1199.3,599.2L1198.6,600.3L1199.9,601.2L1198.9,602.3L1199.1,603.3L1199.4,604.3L1199.9,605.3L1199.5,606.3L1199.1,607.4L1200.1,608.3L1199.5,607.2L1200.3,606.3L1200.1,605.3L1200.0,604.2L1200.3,603.2L1200.2,602.2L1200.0,601.2L1200.9,600.2L1200.5,599.2L1201.3,598.2L1201.2,597.2L1201.0,596.2L1202.0,595.2L1201.7,594.2L1201.0,593.1L1201.6,592.1L1201.4,591.1L1201.1,590.1L1201.2,589.1L1201.4,588.1L1202.0,587.1L1202.0,586.1L1202.2,585.1L1202.4,584.1L1202.7,583.1L1202.7,582.1L1202.4,581.0L1202.0,579.9L1201.9,578.8L1203.2,578.0L1203.2,576.9L1202.9,575.8L1203.7,574.9L1203.5,573.8L1204.3,572.9L1203.7,571.7L1203.7,570.7L1204.1,569.7L1205.0,568.8L1205.3,567.8L1205.3,567.4L1206.1,566.4L1206.9,565.4L1208.0,565.1L1208.9,564.5L1209.7,564.6L1211.1,564.6L1211.3,566.0L1212.2,566.6L1213.3,566.9L1213.8,568.0L1214.4,568.4L1214.8,569.4L1215.5,570.2L1215.6,571.2L1216.1,572.2L1216.0,573.2L1216.2,574.2L1215.7,575.3L1216.4,576.2L1217.3,577.0L1217.0,578.1L1217.2,579.1L1217.1,580.1L1217.3,581.1L1217.4,582.1L1217.7,583.1L1218.4,584.0L1218.4,585.0L1217.8,586.1L1218.1,587.1L1219.2,587.9L1219.4,588.9L1218.5,590.1L1219.4,591.0L1219.5,592.0L1219.5,593.0L1219.9,593.9L1220.3,594.9L1219.4,596.1L1219.9,597.0L1219.9,598.0L1220.2,599.0L1220.4,600.0L1220.9,600.9L1220.3,602.0L1220.5,603.0L1220.6,604.0L1221.5,604.9L1221.7,605.9L1221.4,607.0L1220.8,608.1L1221.1,609.1L1222.2,609.9L1222.1,611.0L1222.7,611.9L1221.5,613.1L1222.0,614.1L1223.2,614.9L1222.0,616.1L1222.4,617.1L1222.4,618.1L1223.1,619.0L1223.0,620.1L1222.8,621.1L1223.6,622.0L1223.8,623.0L1224.3,624.0L1224.6,624.9L1224.8,625.9L1224.2,627.1L1224.1,628.1L1225.6,628.9L1224.9,630.1L1226.4,630.5L1226.0,632.2L1227.5,632.7L1227.8,633.9L1228.1,635.0L1228.5,636.0L1229.1,636.9L1228.8,638.1L1229.4,639.0L1230.0,639.9L1230.0,641.0L1229.2,642.2L1229.7,643.1L1230.4,644.1L1230.2,645.2L1230.7,646.1L1230.8,647.1L1231.2,648.1L1230.3,649.4L1231.2,650.2L1230.7,651.4L1231.4,652.3L1232.0,653.0L1232.8,653.9L1233.2,655.0L1233.8,654.1L1234.1,653.1L1233.8,652.0L1233.9,651.0L1234.5,650.1L1235.0,649.1L1233.8,647.9L1235.1,647.1L1235.0,646.0L1234.2,644.9L1235.1,644.0L1235.3,643.0L1235.3,642.0L1235.2,640.9L1235.1,639.9L1236.0,639.0L1236.4,638.0L1236.0,636.9L1235.8,635.8L1236.1,634.8L1237.2,633.9L1236.1,632.7L1237.0,631.8L1236.5,630.7L1237.5,629.7L1236.8,628.6L1236.5,627.5L1237.3,626.6L1237.2,625.5L1238.1,624.6L1238.1,623.5L1237.3,622.4L1238.0,621.4L1237.4,620.3L1238.6,619.4L1239.0,618.5L1238.9,617.3L1239.2,616.3L1238.7,615.0L1239.7,614.2L1239.5,613.0L1240.2,612.1L1240.8,611.1L1241.0,610.0L1240.7,609.0L1240.8,608.0L1240.4,606.9L1241.2,606.0L1241.2,605.0L1242.1,604.1L1241.0,602.9L1241.3,602.0L1241.5,601.0L1242.2,600.0L1242.6,599.1L1242.2,598.0L1241.9,597.0L1242.4,596.0L1242.4,595.0L1242.6,594.0L1242.7,593.0L1243.2,592.1L1243.0,591.0L1243.2,590.0L1243.6,589.1L1243.5,588.1L1242.5,586.9L1243.8,586.1L1243.7,585.2L1243.6,583.9L1244.6,583.3L1244.4,582.0L1245.3,581.2L1245.8,580.2L1245.9,579.1L1246.8,578.3L1247.1,579.3L1247.6,580.3L1248.5,581.0L1249.1,581.9L1249.6,582.9L1250.0,583.9L1250.0,585.2L1251.3,585.7L1251.9,587.2L1252.9,586.6L1253.7,585.7L1254.6,584.9L1255.7,584.6L1256.7,584.0L1258.0,584.4L1258.7,583.0L1259.5,583.1L1260.1,582.2L1260.5,581.3L1261.0,580.4L1261.7,579.6L1262.6,578.9L1262.1,577.6L1263.3,577.0L1263.2,575.8L1264.3,575.2L1264.6,574.2L1265.3,573.6L1266.1,572.8L1266.7,571.7L1268.0,571.3L1268.7,569.8L1268.3,571.2L1269.6,571.8L1269.3,573.1L1269.5,574.2L1269.9,575.2L1270.7,576.1L1271.0,577.1L1272.1,577.8L1271.8,579.1L1272.6,580.0L1271.9,581.1L1272.4,582.1L1273.0,583.1L1273.2,584.1L1273.4,585.1L1273.5,586.1L1272.7,587.2L1273.4,588.2L1273.1,589.3L1273.6,590.3L1273.5,591.3L1274.1,592.3L1273.5,593.4L1274.5,594.3L1273.4,595.5L1273.6,596.5L1274.1,597.5L1274.2,598.5L1274.9,599.5L1275.0,600.5L1275.1,601.5L1274.5,602.6L1274.6,603.6L1274.8,604.6L1274.4,605.7L1275.1,606.7L1275.7,605.8L1274.9,604.6L1275.1,603.5L1276.4,602.7L1276.1,601.6L1276.3,600.5L1276.3,599.5L1276.5,598.5L1276.9,597.5L1276.8,596.4L1277.6,595.5L1278.1,594.5L1277.9,593.6L1278.2,592.2L1279.3,591.4L1279.0,590.0L1278.8,591.1L1279.7,592.0L1279.8,593.0L1279.8,594.0L1279.9,595.0L1280.4,596.0L1280.4,597.0L1279.7,598.1L1280.7,599.0L1280.6,600.0L1280.8,601.0L1280.7,602.0L1280.7,603.0L1281.5,604.0L1280.3,605.1L1281.1,606.0L1281.6,607.0L1281.1,608.0L1281.3,609.0L1281.1,610.0L1281.6,611.0L1282.3,612.0L1281.6,613.1L1282.3,614.0L1281.8,615.1L1281.9,616.1L1282.1,617.1L1282.2,618.1L1282.3,619.1L1282.3,620.2L1281.8,621.2L1282.3,622.2L1283.0,623.2L1282.8,624.2L1282.5,625.3L1283.1,626.2L1283.0,627.3L1282.8,628.3L1283.1,629.3L1283.0,630.3L1283.1,631.4L1282.8,632.4L1283.0,633.4L1283.8,634.4L1283.9,635.4L1282.9,636.5L1283.8,637.4L1283.3,638.5L1283.1,639.5L1283.3,640.5L1283.9,641.5L1283.8,642.5L1283.5,643.6L1284.4,644.5L1284.5,645.6L1283.3,646.7L1283.9,647.6L1284.1,648.6L1284.5,649.6L1284.1,650.7L1283.8,651.7L1284.8,652.7L1284.7,653.7L1283.7,654.7L1284.5,655.7L1283.9,656.7L1284.5,657.7L1285.4,658.7L1285.0,659.7L1284.2,660.7L1284.4,661.7L1285.0,662.7L1284.9,663.7L1284.5,664.7L1285.3,665.7L1285.2,666.7L1285.5,667.7L1284.6,668.7L1285.8,669.7L1285.3,670.7L1285.4,671.7L1285.4,672.7L1285.6,673.7L1285.1,674.7L1285.9,675.7L1286.3,676.4L1286.2,677.7L1287.1,678.3L1288.2,679.3L1288.0,678.2L1287.7,677.2L1288.0,676.2L1287.8,675.1L1288.2,674.2L1288.5,673.2L1289.1,672.2L1288.3,671.1L1289.2,670.2L1289.0,669.1L1288.6,668.0L1288.7,667.0L1288.7,666.0L1289.9,665.1L1289.3,664.0L1289.5,663.0L1290.2,662.1L1289.9,661.0L1290.3,660.0L1290.4,659.0L1289.6,657.9L1290.2,657.0L1290.7,656.0L1290.2,654.9L1291.0,653.9L1290.9,652.9L1290.6,651.9L1290.6,650.9L1290.7,649.8L1290.4,648.8L1290.5,647.8L1289.9,646.8L1289.7,645.7L1289.9,644.7L1290.5,643.7L1290.5,642.7L1290.7,641.7L1290.7,640.7L1290.9,639.7L1291.1,638.7L1291.5,637.6L1290.4,636.6L1291.4,635.6L1290.4,634.5L1290.4,633.5L1290.5,632.5L1291.2,631.5L1291.0,630.5L1290.9,629.5L1290.7,628.4L1291.6,627.5L1291.3,626.4L1291.0,625.4L1291.4,624.4L1291.0,623.4L1291.7,622.4L1291.1,621.3L1292.0,620.4L1291.6,619.3L1291.2,618.3L1291.0,617.3L1292.2,616.3L1291.9,615.3L1291.2,614.3L1292.3,613.3L1291.9,612.3L1291.8,611.3L1292.8,610.3L1292.4,609.3L1292.0,608.3L1292.2,607.3L1292.8,606.3L1292.6,605.3L1293.2,604.3L1292.8,603.3L1292.6,602.3L1292.1,601.3L1293.0,600.3L1292.9,599.3L1293.4,598.3L1293.3,597.3L1293.4,596.3L1293.4,595.3L1293.8,594.3L1293.6,593.4L1293.3,592.2L1293.8,591.2L1294.0,590.2L1294.3,589.2L1294.2,588.1L1293.9,586.9L1294.5,586.0L1294.9,585.0L1294.5,583.8L1295.1,582.9L1296.2,582.0L1296.4,581.0L1295.7,579.7L1295.9,578.7L1296.8,577.8L1297.2,577.2L1297.1,575.6L1298.1,575.3L1299.2,574.9L1299.2,573.5L1300.4,573.3L1300.6,572.0L1301.9,572.1L1302.5,570.9L1303.7,570.9L1304.5,570.2L1305.6,569.9L1306.6,569.5L1307.3,568.7L1308.1,568.1L1309.5,568.0L1309.5,566.6L1310.1,565.8L1311.0,565.3L1312.2,565.1L1312.1,563.5L1313.7,562.9L1313.9,564.1L1315.1,564.4L1315.7,565.2L1315.8,566.5L1316.7,567.0L1317.4,567.7L1317.7,568.4L1319.1,569.2L1318.2,570.5L1319.8,571.2L1319.0,572.5L1319.8,573.4L1319.9,574.5L1320.6,575.4L1320.1,576.6L1320.7,577.6L1321.5,578.5L1321.7,579.5L1320.9,580.8L1321.4,582.1L1322.8,582.2L1323.5,583.3L1324.4,584.1L1325.6,584.5L1326.1,585.1L1327.2,586.0L1326.6,587.2L1327.8,588.0L1327.2,589.2L1327.5,590.2L1327.9,591.2L1327.9,592.3L1329.2,593.1L1329.5,594.1L1329.7,595.1L1328.9,596.4L1330.2,597.2L1330.4,598.4L1329.6,597.1L1330.7,596.3L1331.3,595.4L1331.1,594.2L1331.4,593.2L1332.2,592.3L1331.2,591.0L1331.5,590.0L1332.3,589.1L1332.3,588.0L1332.7,587.0L1333.1,586.0L1332.9,585.0L1333.7,584.0L1333.5,582.9L1333.0,581.8L1334.0,580.9L1333.7,579.8L1333.2,578.7L1333.5,577.6L1334.2,576.7L1333.6,575.5L1334.5,574.6L1334.6,573.5L1335.0,572.5L1334.9,571.5L1334.6,570.4L1334.7,569.3L1335.0,568.3L1336.1,568.0L1336.7,567.1L1337.4,566.2L1337.8,565.1L1338.4,564.3L1339.8,564.3L1340.3,563.3L1341.0,562.5L1341.8,562.1L1342.7,561.0L1343.9,561.3L1345.0,560.8L1346.2,560.9L1347.3,560.5L1347.7,560.4L1348.5,561.2L1349.0,562.1L1350.7,562.1L1350.9,563.3L1351.1,564.4L1351.8,565.2L1353.1,565.6L1353.1,566.8L1354.4,567.3L1354.8,568.3L1354.2,569.7L1355.4,570.3L1356.2,571.0L1355.6,572.5L1356.6,573.1L1356.9,574.1L1357.5,575.0L1358.5,574.2L1358.4,572.9L1359.1,572.0L1358.5,570.6L1358.8,569.5L1359.8,568.7L1360.0,567.6L1360.6,566.6L1361.8,566.0L1362.2,564.9L1362.1,563.5L1363.0,562.7L1364.0,562.0L1364.3,560.9L1365.2,559.8L1365.1,561.2L1365.9,561.9L1366.7,562.6L1367.9,563.1L1368.2,564.1L1369.4,564.5L1369.3,565.9L1370.0,566.7L1369.7,567.9L1370.9,568.5L1370.7,569.7L1370.9,570.7L1371.6,571.5L1372.1,572.4L1372.8,573.2L1373.4,574.1L1373.5,575.1L1373.7,576.1L1373.8,577.2L1373.8,578.3L1375.0,578.9L1375.6,580.2L1375.7,579.1L1375.4,578.0L1376.4,577.2L1376.2,576.0L1376.7,575.1L1377.0,574.1L1376.9,573.0L1377.1,572.0L1378.7,571.4L1378.8,570.4L1379.4,569.5L1378.8,568.0L1379.6,567.3L1380.0,566.4L1381.0,565.9L1381.4,564.9L1381.7,563.9L1382.6,563.2L1382.8,563.1L1383.7,563.7L1385.0,563.9L1385.4,565.0L1386.4,565.6L1387.3,566.2L1388.9,567.1L1388.7,565.7L1389.3,564.9L1390.5,564.4L1391.0,563.5L1391.8,562.8L1392.5,562.0L1393.1,561.2L1393.0,559.7L1393.7,558.8L1394.7,558.3L1395.7,557.8L1396.4,556.9L1397.7,556.8L1398.8,555.3L1399.4,556.3L1399.8,557.4L1400.3,558.5L1401.0,559.3L1401.9,560.0L1402.6,560.9L1403.5,562.3L1404.2,561.1L1405.2,560.8L1406.1,560.1L1407.1,559.8L1408.1,559.7L1409.4,559.8L1410.0,558.9L1411.1,558.6L1412.0,558.1L1412.1,556.5L1412.9,555.8L1414.4,555.7L1414.5,556.9L1415.4,557.5L1415.2,558.8L1415.9,559.6L1416.5,560.5L1417.2,561.3L1417.5,562.3L1418.7,562.9L1418.7,564.1L1418.9,564.5L1420.3,564.5L1420.7,562.9L1422.5,563.5L1423.5,562.9L1424.4,561.8L1424.8,560.7L1425.8,560.2L1426.5,559.3L1426.6,557.9L1428.2,557.8L1428.5,556.6L1429.4,555.9L1430.1,554.8L1430.8,556.0L1432.0,556.3L1433.0,557.0L1434.4,557.1L1435.5,558.1L1435.5,559.2L1436.2,560.0L1436.2,561.1L1436.5,562.1L1437.6,562.7L1437.8,563.7L1437.9,564.8L1439.3,565.3L1438.7,566.7L1439.0,567.7L1440.0,568.3L1440.3,569.5L1441.1,570.2L1441.7,571.0L1442.6,571.7L1443.7,572.0L1444.2,573.0L1445.1,573.6L1446.1,574.1L1446.4,575.1L1446.7,576.1L1447.7,576.9L1447.4,578.1L1448.5,578.9L1448.5,580.0L1447.7,581.4L1448.9,582.2L1449.8,583.0L1448.9,584.4L1449.4,585.4L1449.6,586.4L1450.2,587.4L1450.4,588.5L1451.5,589.2L1452.1,590.2L1452.1,591.5L1453.7,591.8L1453.1,593.5L1454.0,594.3L1454.5,594.8L1455.7,594.2L1455.1,592.8L1456.5,592.2L1456.1,591.0L1456.5,590.0L1457.6,589.3L1456.9,588.0L1457.1,586.9L1458.5,586.4L1458.0,585.1L1458.2,584.0L1459.0,583.3L1459.7,582.3L1459.6,581.3L1459.2,580.2L1459.0,579.1L1459.8,578.2L1460.3,577.2L1460.2,576.2L1460.8,575.2L1460.8,574.2L1461.2,573.2L1460.5,572.1L1461.1,571.1L1460.4,570.0L1460.8,569.0L1461.8,568.1L1460.8,567.0L1461.4,566.0L1461.7,565.0L1462.2,563.8L1463.2,563.2L1464.3,562.7L1464.3,561.9L1465.4,562.7L1465.6,563.7L1466.0,564.7L1466.4,565.7L1466.5,566.8L1467.0,567.7L1466.9,568.8L1466.5,570.0L1467.8,570.8L1466.8,572.1L1468.3,572.8L1467.4,574.1L1469.0,574.9L1468.9,575.9L1468.8,577.0L1469.1,578.0L1468.1,579.1L1468.5,580.0L1468.8,581.0L1468.8,582.0L1469.5,583.0L1469.5,584.0L1469.6,585.0L1469.9,585.9L1469.9,587.0L1470.1,588.0L1469.6,589.0L1469.5,590.0L1469.6,591.0L1470.7,591.9L1469.4,593.1L1470.2,594.0L1470.7,595.0L1470.8,596.0L1471.2,596.9L1469.9,598.1L1470.9,599.0L1471.3,599.9L1470.8,601.1L1471.5,602.1L1471.0,603.3L1471.2,604.4L1472.0,605.3L1471.6,606.5L1472.2,607.5L1472.2,608.6L1472.9,609.6L1472.9,610.7L1473.2,611.7L1473.8,610.7L1473.2,609.7L1474.3,608.8L1474.4,607.8L1473.7,606.7L1473.5,605.6L1473.6,604.6L1474.8,603.8L1474.6,602.7L1474.0,601.6L1475.0,600.7L1474.1,599.6L1475.5,598.8L1475.1,597.7L1475.4,596.7L1475.8,595.8L1475.8,594.8L1475.7,593.7L1476.0,592.7L1475.4,591.7L1476.5,590.8L1475.6,589.7L1475.5,588.6L1475.6,587.6L1476.8,586.7L1476.2,585.7L1476.5,584.7L1475.9,583.6L1476.1,582.6L1476.7,581.7L1477.4,580.7L1477.0,579.7L1476.9,578.7L1476.6,577.6L1477.8,576.8L1477.8,575.7L1477.8,574.7L1477.9,573.7L1478.1,572.7L1477.7,571.7L1478.0,570.7L1477.2,569.6L1477.8,568.7L1478.5,567.7L1478.4,566.8L1479.5,566.1L1479.9,565.2L1480.2,564.2L1480.0,562.9L1480.5,562.0L1481.4,561.3L1481.1,559.9L1482.0,559.2L1482.1,558.5L1482.9,559.3L1483.4,560.2L1483.9,561.1L1483.8,562.2L1483.6,563.4L1484.4,564.2L1485.5,564.9L1485.7,566.0L1485.1,567.3L1485.7,568.2L1485.9,569.2L1486.3,569.8L1487.5,569.2L1487.3,567.9L1488.7,567.4L1488.4,566.0L1489.8,565.6L1490.2,564.6L1490.3,563.4L1490.8,562.3L1492.0,562.2L1493.1,561.8L1494.3,562.0L1495.6,562.5L1496.9,561.5L1497.3,562.7L1497.7,563.9L1499.2,564.1L1500.0,564.9L1500.6,566.0L1501.3,566.9L1501.0,568.0L1500.3,569.1L1500.4,570.1L1501.3,571.0L1502.0,571.9L1501.8,573.0L1501.8,574.0L1501.2,575.1L1501.7,576.0L1502.0,577.0L1501.9,578.0L1503.1,578.9L1503.1,580.0L1502.6,581.0L1503.0,582.0L1502.0,583.0L1502.2,584.0L1502.6,585.0L1502.7,586.0L1502.6,587.0L1502.9,588.0L1502.4,589.0L1502.3,590.0L1502.7,591.0L1503.1,592.0L1502.9,593.0L1502.2,594.0L1503.3,595.0L1502.4,596.0L1502.1,597.0L1503.0,598.0L1503.4,599.0L1503.5,600.0L1503.3,601.0L1503.0,602.0L1503.4,603.0L1503.7,604.0L1503.6,605.0L1503.2,606.0L1502.9,607.0L1503.2,608.0L1503.8,609.0L1502.4,610.0L1503.4,611.0L1502.4,612.0L1502.6,613.0L1502.9,614.0L1503.8,615.0L1502.8,616.0L1503.0,617.0L1502.6,618.0L1502.5,619.0L1503.0,620.0L1503.0,621.0L1504.0,622.0L1503.9,623.0L1502.5,624.0L1503.7,625.0L1503.4,626.0L1502.8,627.0L1502.8,628.0L1503.7,629.0L1503.9,630.0L1504.0,631.0L1503.0,632.0L1502.9,633.0L1503.2,634.0L1503.7,635.0L1503.6,636.0L1503.7,637.0L1504.1,638.0L1503.9,639.0L1503.7,640.0L1503.9,641.0L1504.3,642.0L1503.1,643.0L1504.4,644.0L1503.4,645.0L1504.3,646.0L1504.2,647.0L1503.6,648.0L1503.5,649.0L1503.3,650.0L1503.4,651.0L1503.8,652.0L1503.8,653.0L1503.6,654.0L1503.5,655.0L1504.4,656.0L1503.7,657.1L1503.3,658.1L1503.7,659.1L1503.7,660.1L1504.6,661.1L1503.8,662.2L1503.4,663.2L1504.0,664.2L1504.3,665.2L1503.8,666.3L1504.6,667.3L1504.1,668.3L1504.2,667.3L1503.6,666.2L1503.6,665.2L1504.4,664.2L1504.4,663.2L1504.8,662.2L1505.0,661.2L1504.8,660.1L1504.0,659.1L1504.2,658.1L1504.7,657.1L1504.2,656.0L1505.1,655.0L1504.2,654.0L1505.2,653.0L1505.0,652.0L1505.4,651.0L1505.5,650.0L1505.4,649.0L1504.8,648.0L1504.7,647.0L1504.9,646.0L1504.8,645.0L1504.8,644.0L1505.2,643.0L1505.3,642.0L1505.3,641.0L1504.7,640.0L1504.5,639.0L1504.4,638.0L1505.5,637.0L1504.3,636.0L1504.9,635.0L1504.8,634.0L1505.2,633.0L1505.4,632.0L1505.1,631.0L1505.7,630.0L1505.7,629.0L1505.6,628.0L1504.7,627.0L1504.6,626.0L1504.7,625.0L1504.7,624.0L1505.9,623.0L1505.8,622.0L1504.7,621.0L1504.5,620.0L1505.7,619.0L1505.0,618.0L1505.5,617.0L1505.3,616.0L1505.1,615.0L1504.7,614.0L1504.9,613.0L1505.7,612.0L1505.6,611.0L1505.7,610.0L1506.2,609.0L1506.1,608.0L1506.0,607.0L1506.1,606.0L1505.0,605.0L1505.8,604.0L1505.9,603.0L1505.3,602.0L1505.9,601.0L1505.6,600.0L1504.9,599.0L1505.2,598.0L1505.4,597.0L1506.2,596.0L1505.4,595.0L1506.3,594.0L1505.6,593.0L1506.0,592.0L1505.7,591.0L1505.1,590.0L1505.2,589.0L1506.5,588.0L1505.3,587.0L1505.4,586.0L1506.3,585.0L1505.8,584.0L1505.7,583.0L1505.3,582.0L1505.1,581.0L1505.7,580.0L1506.7,579.1L1505.6,577.9L1506.9,577.1L1506.0,575.9L1506.4,575.0L1506.3,574.0L1506.6,573.0L1507.5,572.1L1506.8,571.0L1507.2,570.0L1507.3,569.0L1507.2,567.6L1508.0,566.9L1509.1,566.6L1510.1,566.2L1510.9,565.7L1511.3,564.6L1512.8,564.7L1513.2,563.6L1514.3,563.3L1514.0,561.6L1515.5,561.7L1515.7,560.4L1517.3,559.9L1517.2,560.9L1517.9,561.8L1516.9,563.1L1516.9,564.1L1518.1,564.9L1517.7,566.1L1517.7,567.1L1517.9,568.1L1519.3,568.9L1518.4,570.1L1519.0,571.0L1520.0,571.9L1519.1,573.1L1520.2,573.9L1520.7,574.9L1519.4,576.1L1520.0,577.0L1520.3,578.0L1520.2,579.1L1519.7,580.1L1520.6,581.1L1521.3,582.0L1520.5,583.1L1521.4,584.0L1521.4,585.1L1521.3,586.1L1521.4,587.1L1521.6,588.1L1521.0,589.2L1521.4,590.2L1522.1,591.1L1521.7,592.2L1521.7,593.2L1522.4,594.1L1522.2,595.2L1521.7,596.2L1522.0,597.2L1521.7,598.3L1522.3,599.2L1522.0,600.3L1522.9,601.2L1523.0,602.2L1523.0,603.4L1522.4,602.3L1522.2,601.2L1522.9,600.3L1522.6,599.2L1522.7,598.2L1522.5,597.2L1523.2,596.3L1523.7,595.3L1523.2,594.3L1524.4,593.4L1524.0,592.3L1524.1,591.3L1524.2,590.3L1525.0,589.4L1523.7,588.2L1524.2,587.3L1525.3,586.4L1524.6,585.3L1524.8,584.3L1525.6,583.4L1524.7,582.2L1524.6,581.2L1525.3,580.3L1525.5,579.3L1525.0,578.2L1525.4,577.3L1525.6,576.3L1525.5,575.2L1526.6,574.4L1525.5,573.2L1525.9,572.2L1526.8,571.3L1526.9,570.3L1526.9,569.3L1527.0,568.3L1527.1,567.3L1527.0,566.3L1526.7,565.2L1526.8,564.2L1527.3,563.2L1528.1,562.3L1528.3,561.2L1529.0,560.3L1529.5,559.3L1530.3,558.2L1530.6,559.2L1530.9,560.2L1531.1,561.3L1532.1,561.9L1532.0,563.2L1532.3,564.2L1533.4,564.8L1534.2,565.5L1535.0,566.6L1535.1,567.6L1533.9,568.8L1534.6,569.7L1535.2,570.6L1535.6,571.6L1534.9,572.7L1535.7,573.6L1534.7,574.8L1535.2,575.8L1535.3,576.6L1536.0,575.6L1536.3,574.6L1536.1,573.4L1536.8,572.5L1536.5,571.3L1537.7,570.4L1537.0,569.2L1537.8,568.2L1538.7,567.3L1538.0,566.0L1537.9,564.7L1539.4,564.5L1539.1,563.1L1539.5,562.2L1540.0,561.3L1541.4,561.0L1541.4,559.8L1541.9,559.0L1543.2,558.6L1543.3,557.5L1544.2,556.9L1545.2,556.4L1546.4,556.6L1547.5,556.7L1548.4,555.6L1549.2,556.3L1550.2,556.9L1551.0,557.6L1552.3,557.3L1553.0,558.4L1554.0,558.8L1555.1,558.5L1556.0,559.5L1556.9,560.3L1557.9,560.2L1558.9,560.2L1559.9,559.7L1561.0,559.7L1561.9,558.9L1562.9,558.7L1563.8,558.1L1565.1,558.2L1565.5,556.6L1566.8,556.6L1567.8,557.0L1568.3,558.0L1569.3,558.4L1569.7,559.6L1571.1,559.5L1571.4,560.7L1572.9,560.5L1573.6,561.3L1574.4,562.0L1575.1,562.7L1575.6,563.8L1576.3,564.7L1577.3,565.1L1578.0,565.9L1579.4,565.7L1580.5,567.2L1580.7,566.0L1581.2,565.0L1582.5,565.0L1582.3,563.3L1583.4,563.0L1584.6,562.7L1584.6,562.0L1585.3,562.9L1586.0,563.9L1586.7,564.9L1587.3,566.0L1588.5,566.7L1589.1,567.6L1587.8,568.8L1588.2,569.7L1589.0,570.7L1588.3,571.7L1589.4,572.7L1589.5,573.6L1589.0,574.7L1588.8,575.7L1589.3,576.7L1589.6,577.7L1589.3,578.7L1588.8,579.8L1589.1,580.8L1589.8,581.7L1589.6,582.7L1589.6,583.7L1589.9,584.7L1590.0,585.7L1590.7,586.7L1590.5,587.7L1590.6,588.7L1589.9,589.8L1590.7,590.7L1590.1,591.8L1591.4,592.6L1591.0,593.7L1591.5,594.7L1590.9,595.7L1591.5,596.7L1591.7,597.7L1592.1,598.6L1591.4,599.8L1592.5,600.6L1592.5,601.6L1592.4,602.7L1591.9,603.7L1592.5,604.7L1592.7,605.7L1593.0,606.7L1592.2,607.8L1593.1,608.7L1593.1,609.7L1593.6,610.6L1593.3,611.7L1594.2,610.9L1594.6,609.6L1596.0,609.3L1596.2,608.2L1597.2,607.4L1596.7,606.3L1596.9,605.3L1596.7,604.2L1598.0,603.4L1597.3,602.3L1598.1,601.4L1597.2,600.2L1597.6,599.3L1598.5,598.4L1598.1,597.3L1598.4,596.3L1598.0,595.2L1598.3,594.3L1599.2,593.4L1599.5,592.4L1598.6,591.3L1599.5,590.4L1600.0,589.4L1599.0,588.2L1598.8,587.2L1599.2,586.2L1599.4,585.3L1600.2,584.3L1600.0,583.3L1600.8,582.6L1601.1,581.5L1601.5,580.5L1602.8,580.2L1602.7,578.9L1604.2,578.7L1604.3,577.5L1604.4,577.0L1605.2,578.1L1606.7,578.7L1607.0,580.0" stroke="#f00" stroke-width="9.2"/>
<path d="M91.8,669.5L92.3,663.2L93.7,667.7L94.5,664.9L95.8,666.8L96.5,663.8L97.7,665.0L99.1,669.0L99.9,666.4L100.8,664.2L101.6,661.9L102.8,663.7L104.2,667.3L105.0,665.1L105.7,661.3L106.8,661.9L108.4,667.5L109.0,662.4L109.6,666.7L110.5,667.7L111.6,667.4L112.5,668.5L114.7,664.0L114.8,667.8L116.2,666.6L116.7,669.2L117.9,668.8L118.9,669.2L120.5,667.2L120.8,670.3L122.5,667.9L124.1,666.8L125.4,666.5L125.8,667.9L126.5,668.8L126.2,671.8L127.7,670.8L128.5,671.6L130.7,669.5L129.5,674.1L132.9,669.6L131.8,674.1L134.1,671.7L135.4,671.3L135.1,673.0L137.5,675.5L137.3,672.6L137.6,670.9L140.2,673.8L140.7,672.3L140.5,669.4L142.0,670.6L142.5,672.5L144.0,671.2L146.0,668.5L147.0,668.9L147.0,672.4L149.2,668.8L149.8,670.5L150.6,671.5L150.7,674.6L153.5,672.9L153.7,674.0L151.9,676.0L151.8,677.2L152.3,678.1L155.7,677.5L155.6,678.8L155.8,679.8L157.7,680.0L156.6,681.7L158.6,681.8L156.5,683.1L157.9,683.0L158.7,682.4L156.7,679.2L157.6,678.7L160.4,679.9L163.0,680.8L164.3,680.6L162.1,677.3L163.3,677.0L164.5,677.8L164.4,674.4L165.9,675.6L165.7,671.8L166.8,672.0L168.2,672.8L168.9,671.7L170.0,671.4L171.5,672.8L172.9,673.4L174.4,674.6L175.2,673.8L175.7,672.0L175.6,668.9L177.7,671.3L177.5,668.0L179.4,669.6L181.8,672.5L181.2,668.4L182.6,668.9L184.1,669.7L184.0,666.6L185.7,668.9L186.8,667.0L187.8,667.3L188.8,667.7L189.9,665.5L190.9,669.9L192.0,668.5L193.0,667.2L195.1,667.3L195.4,668.3L197.8,668.4L194.2,671.2L193.6,672.7L199.2,671.2L195.1,674.3L197.0,674.5L197.9,675.3L199.1,675.8L198.4,677.3L196.6,679.3L196.6,680.5L201.1,679.6L201.5,680.5L200.1,683.1L201.0,683.5L203.6,681.6L201.4,686.7L204.6,683.7L206.8,682.1L207.9,687.9L205.4,683.0L206.4,682.6L209.2,684.4L209.4,682.9L210.0,681.9L212.1,682.8L211.7,680.6L211.7,678.8L213.6,679.5L214.3,678.6L215.8,681.2L216.0,676.8L216.9,675.6L218.8,680.9L219.3,677.9L220.2,677.0L221.8,680.5L222.3,677.5L223.2,676.8L222.7,677.8L222.0,679.4L224.3,679.4L224.7,680.4L224.9,681.5L227.0,681.6L224.8,683.9L225.6,684.7L225.9,685.8L228.0,685.9L226.5,687.9L227.8,688.4L231.6,687.7L229.7,689.9L230.4,692.2L231.9,691.0L233.7,689.2L234.2,691.0L234.3,694.2L233.3,689.3L238.0,692.5L238.5,691.7L238.9,690.6L237.7,688.0L237.4,686.2L240.9,688.3L240.5,687.2L241.8,688.1L240.1,689.3L242.7,690.0L242.1,691.1L242.6,692.1L241.9,693.2L242.4,694.2L242.4,695.2L240.5,696.5L241.7,697.4L242.2,698.3L244.0,699.2L243.0,700.3L241.0,701.6L242.8,702.4L244.1,703.3L243.0,704.5L241.2,705.7L242.2,706.6L244.2,707.4L244.4,708.4L241.6,709.8L244.0,711.6L244.3,709.3L244.9,707.7L246.1,707.7L248.5,708.0L247.5,711.1L249.1,710.7L250.6,710.4L251.9,710.5L251.7,712.4L253.4,711.9L254.3,712.4L253.8,714.3L253.6,715.5L254.0,716.5L255.6,716.8L254.3,718.6L255.5,719.2L255.1,720.5L255.4,721.5L257.5,721.6L258.9,722.0L260.3,722.5L259.8,723.9L258.5,725.9L259.1,726.8L263.2,725.2L262.6,726.9L260.9,729.2L263.0,729.0L264.3,729.4L264.1,730.7L264.0,732.0L266.0,731.9L267.0,732.4L267.7,733.8L267.1,735.0L267.7,735.9L268.4,736.8L268.0,737.9L266.4,739.2L269.5,739.6L268.1,740.9L269.3,741.7L266.5,743.3L267.2,744.2L268.9,744.9L268.8,745.9L268.1,747.1L267.6,748.2L268.8,749.0L267.3,750.3L269.3,752.7L270.8,751.1L272.3,749.7L272.6,753.6L273.8,753.4L274.9,753.9L277.6,752.3L278.7,753.2L277.7,754.5L278.8,755.4L279.0,756.4L276.3,757.9L275.8,759.0L277.9,759.8L279.4,760.6L279.8,761.7L276.5,763.2L278.0,764.1L276.5,765.4L278.6,766.1L280.6,766.9L280.5,768.0L280.0,767.7L279.8,769.8L279.7,771.8L281.4,771.1L282.9,770.6L282.3,773.2L284.6,771.7L285.3,772.5L285.8,773.5L285.4,775.0L286.6,775.5L288.2,775.7L286.0,778.3L287.8,778.4L288.4,779.2L289.6,779.7L291.6,779.7L290.3,781.7L290.3,782.9L291.7,783.2L291.5,784.6L291.5,785.8L294.9,784.9L295.4,785.8L294.2,787.8L293.4,789.4L293.8,790.4L296.7,789.9L295.5,792.0L297.9,791.5L297.3,793.2L298.6,793.6L299.0,794.6L300.7,794.6L300.6,796.0L301.2,796.8L301.4,798.1L302.1,798.8L303.2,799.3L302.8,800.9L303.9,801.4L304.9,802.0L305.7,802.6L306.0,803.7L306.8,804.5L307.7,805.1L307.8,806.2L309.0,806.6L308.8,808.1L309.3,809.0L311.0,809.0L311.3,810.0L311.0,811.5L312.9,811.4L313.6,812.1L314.0,813.1L314.5,814.0L315.8,814.3L316.2,815.3L316.0,816.7L317.7,816.7L316.7,818.8L318.1,819.0L317.8,820.5L319.8,820.3L319.0,822.1L320.2,822.5L320.9,823.3L321.6,824.1L322.9,824.4L322.7,825.7L323.5,826.5L324.5,827.1L324.9,828.0L325.5,828.8L326.6,829.3L325.9,831.1L326.3,832.0L328.7,831.6L328.4,833.0L329.6,833.4L329.4,834.9L329.8,835.9L330.0,837.0L332.2,836.7L332.6,837.7L332.9,838.7L332.7,840.0L332.5,841.3L334.0,841.5L334.5,842.5L336.1,842.6L335.6,844.2L335.5,845.4L337.3,845.4L337.1,846.8L337.4,847.8L337.7,848.8L338.4,849.5L339.4,850.0L340.9,850.3L339.9,852.2L341.0,852.6L341.5,853.9L343.1,853.0L343.4,854.6L344.5,854.6L345.7,854.5L346.2,855.7L346.8,856.9L348.3,856.2L349.4,856.2L349.5,858.1L350.8,857.8L351.6,857.7L352.6,857.3L353.6,857.3L354.6,857.4L355.6,857.0L356.5,856.4L357.7,857.4L358.9,858.2L359.6,856.7L360.6,856.4L361.9,856.9L362.4,855.9L364.0,856.1L364.2,854.9L364.7,853.9L364.9,852.6L366.2,852.4L367.0,851.8L367.1,850.4L368.1,850.0L368.5,848.9L370.0,849.0L371.0,848.6L370.4,846.4L372.5,847.1L372.8,846.0L373.8,845.4L374.4,844.6L375.3,844.0L375.6,843.0L376.0,842.1L377.5,842.0L377.2,840.4L378.8,840.5L379.1,839.4L378.8,837.8L380.4,837.9L381.7,837.6L381.4,836.0L382.7,835.9L382.6,834.4L383.3,833.7L384.4,833.3L384.6,832.2L386.3,832.4L386.0,830.7L387.0,830.4L387.8,829.8L389.0,829.8L389.5,828.7L389.3,826.8L390.2,826.3L391.4,826.3L392.8,826.4L393.6,825.9L393.2,823.7L394.5,823.8L395.5,823.4L395.5,821.8L397.0,822.0L397.2,820.6L398.6,820.9L400.3,821.4L400.6,820.3L400.8,818.8L401.5,818.1L403.2,818.7L403.9,817.9L404.0,816.4L405.2,816.4L406.4,816.2L406.2,814.6L407.9,814.6L407.4,813.0L408.1,812.2L409.5,811.9L409.2,810.4L410.3,810.0L410.3,808.7L411.8,808.6L412.9,808.1L413.4,807.2L412.7,805.4L413.0,804.3L415.0,804.5L414.3,802.7L416.3,802.9L416.9,802.0L416.9,800.8L416.6,799.3L417.5,798.7L419.7,799.0L420.4,798.3L419.2,796.1L419.6,795.2L421.3,795.1L421.5,794.0L423.1,793.9L422.7,792.3L423.5,791.6L423.4,790.3L424.2,789.6L424.6,788.6L426.0,788.4L427.1,787.9L427.9,787.2L428.5,786.4L427.3,784.3L429.2,784.3L430.2,783.8L431.1,783.2L430.5,781.5L432.0,781.3L432.1,780.1L431.4,778.3L433.5,778.6L434.3,777.9L434.7,776.9L435.4,776.2L435.2,774.7L436.3,774.3L436.0,772.8L438.3,773.3L438.8,772.3L438.2,770.5L440.1,770.7L439.2,768.6L441.0,768.7L441.0,767.4L441.3,766.3L442.5,766.0L443.6,765.5L443.7,764.3L445.1,764.1L444.8,762.5L446.5,762.5L447.0,761.6L447.1,760.3L447.5,759.3L448.7,758.9L448.6,757.5L450.6,757.8L451.0,756.8L451.8,756.1L451.7,754.6L452.2,753.7L453.2,753.1L453.5,752.0L454.6,751.6L456.0,751.7L456.4,750.6L456.6,749.3L458.6,750.0L459.3,749.3L458.9,747.2L459.8,746.7L460.2,745.5L462.1,746.2L462.2,744.7L463.8,745.0L463.8,743.5L464.8,742.5L465.8,742.2L467.0,742.6L467.9,742.1L469.0,742.3L470.2,742.9L471.0,741.4L472.1,741.5L473.2,741.8L474.1,741.1L474.9,739.8L476.4,742.0L477.0,739.7L478.3,740.6L479.3,740.7L480.1,739.2L481.4,740.4L482.3,739.6L483.6,740.6L484.6,740.3L485.1,737.8L486.2,737.8L487.6,739.0L488.3,737.5L489.3,736.9L490.8,738.7L491.5,736.9L492.8,737.9L493.9,738.1L494.8,737.1L495.8,736.7L496.7,735.6L497.7,734.8L498.8,735.6L499.8,734.8L500.9,735.1L501.9,735.1L503.1,736.1L504.0,734.8L505.1,734.9L506.2,735.2L507.3,736.2L508.6,734.6L509.6,735.1L509.8,736.6L510.7,737.2L511.6,737.8L512.2,738.7L513.0,739.5L514.0,739.9L515.3,740.0L515.6,741.4L516.7,741.8L517.5,743.2L518.6,742.5L519.9,741.0L520.6,742.8L521.6,743.2L522.9,741.7L523.8,742.2L524.7,743.0L525.5,744.1L526.5,743.4L527.0,744.4L528.5,744.7L527.6,746.7L528.9,747.1L530.2,747.5L531.0,748.3L530.7,749.8L532.3,750.1L533.1,750.8L532.3,752.7L533.6,753.3L532.3,754.5L534.5,755.2L534.2,756.3L534.0,757.4L534.9,758.3L535.4,759.2L534.2,760.4L534.9,761.4L533.3,762.6L535.6,763.4L535.8,764.4L534.6,765.6L535.5,766.5L534.8,767.6L535.3,768.6L536.3,769.5L535.2,770.7L535.6,771.7L536.3,772.6L536.3,773.6L537.3,774.5L536.3,775.7L537.6,776.6L537.5,777.6L536.9,778.7L537.6,779.7L536.4,780.8L538.6,781.6L537.0,782.8L536.8,783.8L536.8,784.8L538.9,785.7L537.9,786.8L537.7,787.8L537.2,788.9L538.7,789.7L536.8,791.0L538.9,791.8L537.9,792.9L538.7,793.8L537.5,795.0L538.8,795.9L539.4,796.8L539.7,797.8L539.9,798.8L537.7,800.0L538.7,801.0L538.3,802.0L538.3,803.0L540.4,803.8L539.8,804.9L538.4,806.1L540.4,806.9L538.9,808.1L538.5,809.1L539.7,810.0L540.3,811.0L540.8,812.0L540.4,813.1L540.1,814.2L539.9,815.3L541.1,816.1L540.6,817.3L540.1,818.4L541.4,819.2L540.4,820.4L541.3,821.4L542.1,822.3L542.7,823.2L541.2,824.5L541.5,825.5L541.4,826.6L542.1,827.5L541.9,828.6L542.4,829.6L543.3,830.5L542.7,831.6L543.1,832.6L544.5,833.5L542.7,834.8L543.3,835.8L544.2,836.6L545.5,837.3L544.7,838.7L545.9,839.5L546.6,840.4L546.4,841.6L544.9,843.2L546.5,843.8L546.7,844.9L545.8,846.3L547.6,846.8L547.3,848.1L547.2,849.2L548.6,850.0L549.2,850.9L548.4,852.0L548.8,853.0L549.9,853.9L548.5,855.0L548.9,856.0L549.4,857.0L548.8,858.0L550.2,858.9L549.2,860.0L548.8,861.1L548.9,862.1L549.7,863.0L551.2,863.8L550.1,865.0L549.6,866.1L550.4,867.0L550.3,868.0L551.2,868.9L550.9,870.0L550.1,871.1L550.0,872.1L552.2,872.9L550.3,874.1L549.9,875.1L551.3,876.0L550.3,877.1L550.8,878.1L552.0,879.0L552.6,879.9L552.5,880.9L552.7,881.9L552.1,883.0L552.1,884.0L551.7,885.1L551.2,886.2L552.9,887.0L552.3,888.1L553.0,889.0L552.5,890.1L552.5,891.1L553.1,892.1L551.8,893.2L554.1,894.0L552.6,895.2L554.3,896.0L553.5,897.1L553.9,898.1L552.5,899.3L553.7,900.2L553.5,901.2L554.5,902.1L555.0,903.1L554.4,904.2L553.4,905.3L553.7,906.3L554.4,907.2L554.0,908.3L555.0,909.2L555.2,910.2L553.9,911.4L556.3,912.1L554.6,913.4L554.8,914.5L554.7,915.6L557.0,916.1L556.5,917.4L557.2,918.4L555.8,919.8L556.6,920.8L557.1,921.6L557.2,920.6L557.6,919.6L557.7,918.6L559.1,917.9L558.5,916.7L559.8,915.9L558.5,914.6L560.3,913.9L559.5,912.7L559.2,911.6L559.3,910.5L560.7,909.8L559.4,908.4L561.7,907.9L561.6,906.7L560.0,905.6L560.1,904.6L561.3,903.7L561.8,902.7L560.7,901.6L561.3,900.6L561.8,899.6L561.2,898.6L561.7,897.6L561.4,896.5L560.9,895.5L562.2,894.5L561.4,893.5L561.3,892.4L562.4,891.5L561.0,890.4L562.8,889.5L562.4,888.4L563.7,887.5L562.4,886.4L563.3,885.4L563.3,884.4L562.8,883.4L562.7,882.3L562.5,881.3L563.6,880.4L563.6,879.3L561.4,878.2L562.4,877.2L563.1,876.3L564.0,875.3L563.2,874.2L563.6,873.2L563.2,872.2L562.2,871.1L562.7,870.1L563.9,869.2L563.1,868.1L562.2,867.0L562.4,866.0L562.9,865.0L563.4,864.0L564.6,863.1L563.2,862.0L564.0,861.0L564.4,860.0L564.3,859.0L563.4,857.9L564.6,857.0L564.2,856.0L563.2,854.9L564.0,854.0L565.2,853.0L564.1,852.0L563.5,850.9L563.2,849.9L564.9,849.0L566.1,848.1L566.1,847.1L563.9,845.9L565.4,845.0L563.9,843.9L565.1,843.0L565.8,842.0L564.3,840.9L565.9,840.0L566.0,839.0L566.4,838.1L566.6,837.1L566.0,836.0L566.5,835.1L565.8,834.0L565.9,833.0L567.2,832.1L565.3,831.0L565.6,830.0L565.0,828.9L565.9,828.0L565.6,827.0L567.0,826.0L566.0,825.0L566.9,824.0L565.3,822.9L565.5,821.9L565.5,820.9L565.7,819.9L567.0,819.0L566.8,818.0L565.7,816.8L566.4,815.9L568.4,815.1L567.7,814.0L567.4,812.9L567.9,812.0L566.4,810.8L567.1,809.9L567.7,808.9L568.6,808.0L567.6,806.8L568.0,805.9L568.8,804.9L568.8,803.9L567.6,802.8L569.3,801.9L568.4,800.8L568.2,799.8L568.3,798.8L569.9,797.9L568.0,796.7L569.7,795.8L568.1,794.7L569.7,793.8L570.1,792.8L569.5,791.7L569.7,790.7L568.8,789.6L568.3,788.6L570.9,787.8L570.6,786.8L569.0,785.5L569.5,784.5L570.0,783.5L569.4,782.4L570.9,781.6L570.3,780.4L571.7,779.6L570.7,778.3L571.6,777.4L572.7,776.5L572.7,775.5L570.7,774.1L572.1,773.3L572.6,772.3L572.9,771.3L571.6,770.0L572.3,769.1L572.0,768.0L572.3,767.0L572.0,765.9L573.0,764.9L573.0,763.7L574.9,763.5L575.6,762.7L574.9,761.3L574.7,760.1L576.2,759.6L576.8,758.8L575.8,757.3L575.9,756.9L577.8,757.6L576.5,758.9L577.1,759.8L578.7,760.5L579.1,761.5L578.2,762.7L577.7,763.8L578.0,764.8L577.9,765.8L578.3,766.8L578.2,767.8L579.5,768.6L580.0,769.6L578.3,770.9L578.8,771.9L579.4,772.8L581.4,773.5L580.3,774.7L580.3,775.7L581.0,776.7L580.3,777.8L581.2,778.7L581.3,779.7L582.4,780.5L581.2,781.7L581.7,782.7L581.7,783.7L581.6,784.7L582.1,785.7L581.3,786.8L581.5,787.8L583.3,788.6L582.4,789.7L583.4,790.6L582.7,791.7L583.0,792.7L583.5,793.6L582.5,794.8L583.9,795.6L583.4,796.7L583.6,797.7L583.3,798.8L584.9,799.6L583.9,800.7L583.2,801.9L585.4,802.6L584.3,803.7L584.2,804.8L584.2,805.8L584.3,806.8L584.1,807.9L585.1,808.8L586.1,809.7L585.4,810.9L585.8,811.9L586.0,812.9L586.2,813.9L587.0,814.8L587.2,815.9L586.7,817.0L586.3,818.1L587.5,819.0L585.7,820.4L587.2,821.2L586.8,822.3L586.8,823.4L588.2,824.2L589.2,825.1L588.3,826.3L589.1,827.2L587.7,827.6L589.0,827.1L590.4,826.8L591.2,826.0L591.8,825.2L592.2,824.2L592.6,823.1L592.7,822.0L593.8,821.0L593.8,820.0L591.8,819.0L594.0,818.0L592.9,817.0L592.2,816.0L592.9,815.0L593.5,814.0L593.7,813.0L592.8,812.0L593.3,811.0L593.9,810.0L593.0,809.0L593.7,808.0L592.1,807.0L594.5,806.0L594.5,805.0L593.5,804.0L593.7,803.0L593.9,802.0L592.8,801.0L593.2,800.0L594.5,799.0L593.7,798.0L593.5,797.0L594.2,796.0L594.1,795.0L594.8,794.0L595.2,793.0L594.3,792.0L593.1,791.0L594.9,790.0L593.5,789.0L593.5,788.0L593.2,787.0L595.3,786.0L594.9,785.0L594.8,784.0L594.2,783.0L594.8,782.0L593.4,781.0L594.0,780.0L595.6,779.0L595.4,778.0L595.3,777.0L594.0,776.0L595.9,775.1L594.4,774.0L595.4,773.0L593.6,772.0L594.9,771.0L593.4,769.9L594.2,769.0L594.9,768.0L595.0,767.0L593.4,765.9L594.8,765.0L594.8,764.0L594.5,763.0L594.1,762.0L595.4,761.0L595.2,760.0L595.3,759.0L594.7,758.0L595.9,757.0L595.9,756.0L595.2,755.0L594.4,754.0L595.2,753.0L596.1,752.0L595.1,751.0L594.1,749.9L595.6,749.0L594.8,748.0L594.6,746.9L594.6,745.9L597.2,745.1L595.4,744.0L594.6,742.9L595.9,742.0L596.1,741.0L595.8,740.0L594.7,738.9L596.8,738.0L597.1,737.0L597.4,736.1L595.8,735.0L595.6,734.0L597.3,733.0L597.2,732.0L597.3,731.0L595.9,730.0L597.5,729.0L595.8,728.0L596.0,727.0L595.8,726.0L597.6,725.0L598.1,724.1L596.6,723.0L597.4,722.0L596.4,721.0L596.3,719.8L597.8,719.2L598.1,718.2L598.7,717.3L599.1,716.4L598.8,715.2L600.0,714.5L600.2,713.5L598.9,712.0L599.2,711.1L599.5,710.1L599.4,709.0L601.0,708.4L600.1,707.1L601.5,706.4L601.1,705.3L601.5,704.3L602.3,703.6L602.8,702.7L602.6,701.5L602.8,700.5L604.2,700.1L604.6,699.2L604.7,698.1L604.7,696.9L606.0,696.5L606.1,695.4L605.8,694.1L607.4,693.8L607.4,692.7L607.2,691.5L607.6,690.5L608.6,689.9L609.1,689.1L609.8,688.4L610.5,687.5L611.3,687.0L612.4,686.8L613.3,686.3L614.1,685.6L615.1,685.2L615.6,684.1L616.5,683.6L617.5,683.4L618.2,682.3L619.5,683.2L620.5,683.0L621.5,682.6L622.5,682.4L623.4,681.9L624.5,682.0L625.4,681.2L626.6,682.0L627.6,681.7L628.5,680.8L629.5,680.4L630.7,681.0L631.6,680.1L632.6,680.2L633.7,680.3L634.6,679.5L635.8,679.9L636.5,678.6L637.5,678.4L638.6,678.5L639.7,678.9L640.7,678.7L641.8,678.7L642.4,677.1L643.4,676.9L644.6,677.6L645.4,676.8L646.5,676.8L647.3,676.0L648.6,677.0L649.6,676.6L650.4,676.0L651.3,675.2L652.5,675.8L653.4,675.8L654.3,675.3L655.3,674.5L656.4,675.3L657.3,674.4L658.3,674.8L659.2,673.6L660.4,674.7L661.2,673.5L662.2,673.3L663.2,673.2L664.3,673.3L665.3,673.3L666.4,674.1L667.3,673.1L668.3,672.9L669.3,673.3L670.3,672.9L671.4,673.7L672.4,673.5L673.5,673.7L674.2,672.2L675.4,672.7L676.4,672.4L677.2,671.2L678.4,672.0L679.2,670.7L680.2,670.7L681.3,670.9L682.3,670.8L683.2,669.9L684.2,669.9L685.3,670.2L686.3,669.7L687.3,669.4L688.4,670.1L689.3,669.3L690.2,668.7L691.4,669.2L692.4,669.1L693.4,669.0L694.3,667.8L695.2,667.4L696.4,668.6L697.4,668.5L698.2,667.2L699.2,666.9L700.3,667.8L701.3,667.6L702.3,667.5L703.3,667.2L704.2,666.6L705.3,666.8L706.3,667.2L707.2,665.8L708.3,666.5L709.3,666.6L710.2,665.6L711.2,665.6L712.3,666.4L713.3,666.0L714.4,666.0L715.4,665.9L716.3,665.3L717.0,664.3L717.9,664.0L719.2,664.6L720.0,663.8L720.8,663.2L721.9,663.2L722.6,662.2L723.5,661.7L724.8,662.3L725.7,662.0L726.6,661.5L727.6,661.2L728.6,661.0L729.5,660.6L730.5,660.5L731.6,660.6L732.3,659.6L733.3,659.0L734.3,659.7L735.3,659.4L736.3,659.4L737.3,658.7L738.3,659.2L739.3,659.3L740.3,658.3L741.3,658.6L742.3,658.9L743.3,658.3L744.3,659.1L745.3,658.0L746.3,658.0L747.3,658.2L748.3,658.4L749.3,657.9L750.3,658.9L751.3,658.2L752.3,657.7L753.4,658.6L754.3,658.0L755.3,657.8L756.2,657.4L757.4,658.0L758.4,658.2L759.2,656.5L760.4,657.7L761.3,656.8L762.4,657.4L763.3,656.8L764.3,656.6L765.3,656.5L766.2,655.6L767.4,656.5L768.2,655.3L769.4,656.0L770.4,655.8L771.4,656.1L772.2,654.5L773.3,655.3L774.3,655.8L775.3,654.8L776.3,655.3L777.3,656.0L778.3,654.8L779.3,654.7L780.3,655.9L781.3,655.2L782.3,656.0L783.3,655.3L784.3,655.0L785.3,656.2L786.3,654.9L787.3,654.9L788.3,655.6L789.3,656.1L790.3,655.9L791.3,656.6L792.3,655.4L793.3,656.2L794.2,655.5L795.4,656.4L796.2,654.8L797.3,655.0L798.3,655.2L799.3,655.0L800.3,654.5L801.3,654.4L802.3,654.4L803.4,654.8L804.3,654.2L805.3,653.8L806.4,654.0L807.4,654.3L808.1,654.1L809.1,654.2L810.3,653.8L811.4,653.6L812.4,653.9L813.4,654.0L814.2,655.2L815.3,655.0L816.1,655.8L817.2,655.7L818.2,656.2L819.3,655.9L820.2,656.3L821.3,656.0L822.3,656.7L823.3,656.7L824.4,657.0L825.0,655.4L826.2,655.9L827.1,655.4L828.0,654.7L828.9,654.3L830.0,654.7L831.2,655.0L832.0,654.3L833.0,654.2L834.0,653.8L835.1,654.2L835.9,653.3L836.9,653.0L837.6,652.0L838.6,651.8L839.7,652.1L840.6,651.6L841.8,651.2L842.8,651.6L843.9,651.2L844.8,652.0L845.8,652.1L846.9,652.2L847.8,652.9L848.8,652.8L849.9,652.9L851.0,652.5L851.9,653.2L853.0,653.0L853.8,654.4L855.0,653.8L856.0,654.1L857.0,654.0L858.0,654.6L859.1,654.2L860.0,655.0L861.0,654.7L862.1,654.9L863.1,654.1L864.1,654.4L865.1,655.2L866.2,655.0L867.2,655.1L868.2,654.9L869.2,654.9L870.3,654.2L871.3,654.7L872.3,654.7L873.3,654.4L874.4,654.4L875.4,653.9L876.4,655.1L877.5,654.8L878.5,654.9L879.5,655.3L880.5,654.7L881.6,654.6L882.6,654.8L883.6,654.6L884.6,654.1L885.7,653.7L886.7,654.7L887.7,654.6L888.7,654.7L889.8,653.6L890.8,654.7L891.8,653.7L892.8,654.8L893.9,653.9L894.9,653.8L895.9,654.2L896.9,654.3L897.9,655.2L899.0,653.9L900.0,654.3L901.0,655.3L902.0,655.0L903.1,655.1L904.1,655.1L905.1,655.5L906.1,655.1L907.2,654.5L908.2,654.3L909.2,655.6L910.2,654.3L911.3,654.2L912.3,655.5L913.3,654.9L914.3,655.3L915.4,655.0L916.4,655.9L917.4,655.9L918.4,655.1L919.5,654.6L920.5,655.5L921.5,655.5L922.5,655.4L923.6,655.6L924.6,654.6L925.6,655.0L926.6,656.1L927.7,655.9L928.7,655.4L929.7,656.1L930.7,656.2L931.8,655.6L932.8,656.4L933.8,656.0L934.9,656.1L935.9,655.6L936.9,655.6L937.9,656.2L939.0,655.5L940.0,656.4L941.0,656.3L942.0,656.4L943.1,656.2L944.1,656.3L945.1,656.9L946.2,656.2L947.2,656.3L948.2,656.8L949.3,655.6L950.3,656.1L951.3,656.6L952.4,656.0L953.4,656.5L954.4,656.4L955.4,657.5L956.4,657.1L957.4,657.1L958.5,657.3L959.5,657.4L960.6,656.4L961.5,657.5L962.6,657.5L963.6,657.9L964.7,656.7L965.7,656.4L966.6,658.0L967.7,657.4L968.7,657.7L969.8,657.0L970.8,657.9L971.8,658.0L972.8,658.0L973.8,658.0L974.9,657.8L975.9,657.8L976.9,658.1L977.9,658.2L978.9,659.0L980.0,658.4L981.0,658.8L982.1,658.0L983.1,658.7L984.1,659.1L985.1,658.2L986.2,658.3L987.1,659.6L988.2,659.1L989.2,659.7L990.2,659.7L991.3,658.6L992.3,659.2L993.4,658.9L994.2,659.8L995.0,660.7L996.4,659.9L997.4,660.1L998.5,660.2L999.0,661.8L1000.2,661.6L1001.3,661.7L1002.2,662.1L1003.0,662.9L1004.3,662.3L1005.0,663.6L1005.9,664.1L1007.0,664.1L1008.0,664.4L1008.9,665.0L1009.7,665.6L1010.7,666.2L1012.1,665.3L1012.8,666.6L1014.2,665.9L1014.7,667.6L1016.2,666.7L1016.7,668.2L1018.0,667.7L1019.0,668.1L1019.7,669.1L1021.0,668.8L1021.7,670.0L1022.9,669.9L1023.6,670.8L1024.7,671.1L1025.5,671.8L1026.8,671.5L1027.5,672.4L1028.6,672.7L1029.7,672.8L1030.5,673.6L1031.7,673.5L1032.3,674.8L1033.4,674.9L1034.3,675.5L1035.5,675.5L1036.5,675.8L1036.8,677.6L1037.8,678.0L1039.1,677.7L1039.5,678.6L1040.2,679.4L1041.1,680.0L1041.9,680.6L1042.3,681.6L1043.2,682.2L1043.8,683.0L1044.4,683.8L1045.1,684.6L1045.7,685.3L1045.9,686.4L1046.0,687.5L1046.3,688.6L1047.0,689.3L1047.4,690.2L1047.8,691.2L1049.4,691.3L1049.9,692.2L1050.3,693.1L1051.5,693.8L1049.8,695.8L1050.8,696.5L1051.9,697.2L1053.5,697.5L1052.1,699.4L1054.9,699.2L1055.2,700.3L1054.6,701.8L1053.7,703.4L1055.7,703.6L1055.1,705.1L1056.0,705.9L1057.8,706.4L1058.7,707.3L1055.7,709.1L1058.3,709.5L1057.4,710.8L1056.8,712.0L1056.4,713.1L1057.4,714.0L1060.5,714.2L1058.3,715.9L1058.4,716.9L1059.6,717.7L1060.2,718.6L1061.5,719.3L1059.1,721.0L1061.2,721.5L1061.7,722.5L1062.0,723.4L1059.3,725.2L1060.5,725.9L1060.2,726.9L1060.2,727.9L1060.9,728.9L1060.9,729.9L1063.4,730.7L1061.4,731.9L1060.9,733.0L1062.5,733.9L1060.7,735.1L1064.5,735.7L1064.3,736.8L1063.5,737.9L1061.9,739.1L1065.2,739.8L1064.0,740.9L1062.1,742.2L1062.2,743.2L1064.5,744.0L1065.3,744.9L1063.3,746.2L1064.9,747.0L1064.5,748.1L1065.7,749.0L1066.0,750.0L1064.9,751.2L1064.6,752.3L1063.0,753.4L1064.3,754.3L1064.3,755.3L1064.1,756.4L1064.5,757.4L1063.7,758.4L1065.8,759.3L1064.1,760.4L1063.5,761.5L1066.7,762.3L1063.7,763.5L1065.9,764.4L1063.8,765.5L1065.2,766.5L1065.9,767.4L1063.7,768.6L1064.2,769.6L1064.7,770.5L1064.8,771.6L1063.9,772.6L1067.0,773.5L1065.5,774.6L1064.3,775.6L1067.7,776.5L1067.1,777.5L1066.6,778.6L1066.8,779.6L1065.4,780.7L1066.3,781.6L1066.8,782.6L1065.7,783.7L1067.5,784.6L1067.9,785.6L1066.5,786.7L1068.3,787.6L1065.3,788.7L1064.8,789.8L1065.4,790.8L1065.6,791.8L1067.1,792.7L1068.6,793.7L1065.6,794.8L1066.7,795.7L1066.0,796.8L1066.8,797.8L1065.8,798.8L1068.4,799.7L1065.9,800.8L1065.3,801.8L1066.7,802.8L1068.6,803.7L1065.9,804.8L1068.6,805.7L1066.0,806.8L1066.9,807.8L1068.2,808.8L1068.3,809.8L1067.0,810.8L1067.0,811.8L1067.2,812.8L1066.1,813.9L1069.1,814.8L1068.5,815.8L1068.1,816.8L1068.5,817.8L1067.9,818.8L1067.9,819.9L1066.3,820.9L1069.3,821.8L1066.5,822.9L1067.0,823.9L1068.2,824.9L1065.6,826.0L1066.4,826.9L1067.3,827.9L1067.0,828.9L1067.1,829.9L1066.8,831.0L1067.4,831.9L1067.8,832.9L1066.9,834.0L1069.4,834.9L1066.4,836.0L1068.7,836.9L1066.3,838.0L1069.5,838.9L1068.1,840.0L1067.8,841.0L1068.5,842.0L1069.6,842.9L1068.5,844.0L1066.8,845.1L1066.5,846.1L1067.3,847.1L1067.3,848.1L1068.2,849.0L1068.4,850.0L1066.5,851.1L1067.1,852.1L1068.9,853.0L1069.7,854.0L1070.2,854.9L1066.7,856.1L1070.4,856.9L1070.2,857.9L1068.5,859.0L1068.2,860.0L1068.8,861.0L1067.5,862.1L1067.6,863.1L1067.3,864.1L1068.2,865.0L1070.3,866.0L1069.1,867.0L1069.3,868.0L1069.2,869.0L1068.4,870.0L1070.0,871.0L1068.1,872.1L1070.4,873.0L1069.5,874.0L1069.3,875.0L1070.8,876.0L1069.3,877.0L1071.0,877.9L1068.3,879.1L1067.8,880.1L1070.9,881.0L1069.8,882.0L1069.5,883.0L1071.5,883.9L1071.6,884.9L1071.5,885.9L1071.4,886.9L1069.5,888.0L1069.1,889.1L1071.1,889.9L1068.5,891.2L1069.2,892.1L1071.2,892.9L1072.0,893.9L1069.6,895.1L1072.1,895.9L1071.4,897.0L1072.4,897.9L1071.1,899.0L1072.2,899.9L1071.9,901.1L1071.5,900.0L1072.3,899.1L1073.7,898.3L1071.3,896.9L1072.9,896.1L1071.6,894.9L1072.1,893.9L1071.1,892.7L1073.8,892.1L1071.8,890.8L1073.9,890.1L1073.8,889.1L1072.8,887.9L1074.0,887.0L1073.0,885.8L1073.7,884.9L1072.8,883.7L1073.0,882.9L1073.8,882.0L1074.0,881.0L1073.9,880.0L1074.5,879.0L1073.4,878.0L1075.9,877.0L1074.0,876.0L1074.5,875.0L1073.5,874.0L1074.9,873.0L1076.6,872.1L1076.2,871.0L1074.3,870.0L1076.6,869.1L1075.5,868.0L1074.8,867.0L1074.4,866.0L1074.3,865.0L1073.8,864.0L1074.0,863.0L1074.8,862.0L1075.6,861.0L1073.6,859.9L1077.1,859.1L1076.1,858.0L1075.1,857.0L1074.4,856.0L1075.3,855.0L1074.9,854.0L1075.5,853.0L1076.3,852.0L1074.0,850.9L1073.7,849.9L1074.5,849.0L1075.0,848.0L1076.8,847.0L1077.1,846.0L1076.0,845.0L1075.4,844.0L1075.1,843.0L1074.9,842.0L1077.8,841.1L1075.2,840.0L1075.6,839.0L1075.9,838.0L1076.9,837.0L1076.7,836.0L1077.7,835.1L1077.6,834.0L1077.0,833.0L1075.6,832.0L1076.7,831.0L1077.1,830.0L1076.7,829.0L1074.1,827.9L1075.3,827.0L1076.2,826.0L1076.7,825.0L1077.6,824.0L1076.3,823.0L1077.3,822.0L1074.9,820.9L1078.1,820.1L1077.8,819.1L1078.3,818.1L1076.0,816.9L1075.5,815.8L1076.6,814.9L1077.1,813.9L1075.9,812.8L1076.8,811.9L1075.5,810.7L1078.1,810.0L1078.0,808.9L1076.8,807.8L1076.9,806.8L1079.4,806.0L1076.6,804.7L1079.8,804.0L1077.3,802.8L1078.9,801.9L1077.9,800.8L1078.4,799.8L1077.5,798.7L1080.5,798.0L1078.0,796.7L1078.2,795.7L1079.0,794.8L1078.7,793.7L1077.8,792.6L1079.6,791.8L1078.1,790.6L1077.8,789.6L1079.7,788.7L1078.5,787.6L1078.1,786.1L1080.0,785.8L1080.4,784.8L1080.4,783.7L1079.8,782.3L1082.6,782.4L1082.0,781.0L1083.2,780.4L1081.9,778.7L1082.7,777.9L1083.5,777.1L1084.2,776.3L1085.2,775.6L1084.6,774.3L1085.3,773.8L1086.5,773.8L1086.6,771.8L1086.5,771.9L1088.1,772.7L1087.3,773.9L1087.8,774.9L1089.7,775.6L1089.5,776.6L1090.6,777.5L1089.9,778.7L1090.5,779.6L1088.6,781.0L1090.2,781.8L1089.2,783.0L1088.8,784.1L1089.3,785.1L1091.4,785.8L1089.5,787.2L1090.3,788.1L1090.1,789.1L1091.3,790.0L1089.5,791.1L1092.8,791.9L1092.8,792.9L1090.6,794.1L1090.8,795.1L1091.4,796.0L1092.5,796.9L1092.8,797.9L1091.9,799.0L1092.6,800.0L1092.0,801.0L1090.9,802.1L1090.7,803.1L1091.1,804.1L1092.8,805.0L1092.6,806.0L1093.9,806.9L1093.9,807.9L1092.4,809.0L1092.2,810.0L1092.5,811.0L1091.6,812.1L1093.0,813.0L1094.5,813.9L1093.9,814.9L1093.7,816.0L1091.2,817.1L1094.1,817.9L1094.0,818.9L1093.8,819.9L1092.1,821.2L1094.6,821.9L1095.2,822.8L1092.8,824.1L1095.7,824.8L1093.0,826.1L1095.6,826.8L1093.0,828.2L1096.0,828.8L1096.0,829.8L1095.1,831.0L1096.0,831.9L1094.0,833.1L1096.7,833.8L1095.8,834.9L1095.8,835.9L1095.5,837.0L1097.3,837.8L1096.5,838.9L1097.0,839.9L1096.1,841.0L1094.5,842.2L1094.7,843.2L1095.4,844.1L1096.6,845.0L1098.2,845.8L1096.6,847.0L1096.8,848.1L1096.7,849.2L1097.4,850.0L1097.6,851.0L1097.3,852.2L1097.1,853.3L1097.5,854.2L1098.0,855.2L1099.3,855.9L1098.9,857.1L1100.8,857.7L1101.0,858.7L1101.4,859.7L1101.2,860.8L1101.4,861.8L1099.4,863.4L1099.4,864.4L1100.2,865.3L1101.9,865.9L1102.4,866.8L1100.7,868.3L1103.2,868.8L1102.5,870.0L1104.1,870.7L1103.9,871.8L1104.3,872.8L1102.7,874.2L1104.4,874.9L1105.7,875.6L1105.0,876.8L1104.7,877.9L1104.1,879.1L1106.4,879.7L1103.4,881.3L1105.4,882.0L1104.4,883.2L1105.3,884.1L1106.0,885.0L1106.6,885.9L1107.1,886.8L1107.7,887.7L1107.1,888.9L1105.0,890.4L1106.4,891.1L1108.5,891.7L1108.8,892.7L1106.8,894.2L1107.3,895.1L1108.1,896.0L1106.5,897.4L1109.8,897.7L1108.3,899.1L1110.0,899.8L1107.8,901.3L1107.8,902.3L1109.9,902.9L1111.0,903.7L1109.6,905.1L1109.0,906.2L1110.4,907.0L1111.4,907.8L1109.6,909.2L1111.8,909.7L1111.8,910.8L1112.2,911.7L1112.7,912.6L1113.2,913.5L1111.5,914.9L1110.9,916.1L1110.6,917.1L1111.6,918.0L1113.9,918.5L1111.5,920.0L1114.6,920.4L1113.1,921.6L1114.8,921.2L1113.8,919.6L1115.6,919.2L1116.4,918.4L1114.9,916.6L1114.6,915.3L1118.1,915.7L1115.8,913.6L1115.7,912.3L1116.1,911.4L1118.2,911.1L1118.1,909.9L1118.9,909.2L1117.5,907.6L1118.2,906.8L1120.7,906.6L1120.0,905.3L1119.2,903.9L1119.1,902.9L1121.1,902.4L1121.5,901.5L1122.5,900.8L1122.5,899.8L1121.4,898.3L1121.9,897.4L1124.3,897.2L1121.9,895.3L1124.8,895.2L1125.3,894.4L1123.8,892.8L1125.3,892.2L1124.4,890.9L1123.5,889.8L1125.3,889.0L1124.6,887.9L1126.7,887.1L1126.7,886.0L1124.1,884.7L1126.9,884.0L1124.6,882.7L1127.5,882.0L1127.1,880.9L1124.6,879.5L1126.6,878.7L1125.8,877.6L1125.5,876.5L1127.7,875.7L1125.2,874.4L1126.2,873.5L1125.1,872.3L1125.4,871.3L1125.9,870.3L1127.8,869.5L1126.9,868.3L1129.5,867.6L1126.7,866.2L1126.9,865.2L1129.0,864.4L1129.3,864.1L1127.7,861.5L1130.9,862.7L1130.7,861.1L1130.7,859.8L1132.1,859.5L1133.5,859.3L1132.4,857.0L1134.0,856.9L1133.8,855.4L1135.1,854.9L1135.1,856.6L1136.5,856.5L1137.0,857.5L1139.2,856.4L1138.9,858.5L1139.2,859.9L1140.4,859.9L1141.5,860.1L1142.8,860.7L1143.5,861.6L1143.1,862.8L1142.3,864.0L1144.2,864.5L1143.8,865.7L1143.1,866.9L1143.9,867.8L1144.5,868.6L1144.4,869.7L1143.1,871.1L1145.0,871.6L1145.4,872.6L1144.7,873.8L1145.9,874.5L1145.2,875.8L1147.9,876.1L1145.2,877.9L1148.5,878.0L1147.8,879.2L1147.3,880.4L1149.3,880.9L1148.9,882.1L1149.3,882.9L1147.8,884.6L1149.6,885.0L1151.1,885.6L1149.1,887.4L1149.2,888.5L1148.8,889.7L1151.1,890.0L1150.1,891.4L1151.2,892.1L1152.4,892.8L1152.9,893.7L1153.1,894.7L1152.4,896.1L1154.8,896.3L1153.4,897.9L1152.8,899.2L1154.3,899.7L1154.4,900.8L1154.2,902.5L1155.7,902.5L1156.6,902.9L1158.3,902.7L1158.4,904.1L1157.7,906.1L1158.2,907.1L1158.2,906.4L1159.8,905.6L1161.6,904.8L1161.2,903.7L1161.3,902.7L1161.7,901.7L1159.9,900.4L1162.3,899.7L1161.8,898.6L1160.0,897.3L1160.0,896.2L1160.7,895.3L1163.1,894.6L1163.3,893.5L1160.3,892.0L1161.8,891.2L1164.2,890.5L1161.8,889.1L1163.5,888.3L1164.0,887.3L1161.1,885.9L1162.8,885.1L1163.6,884.1L1163.0,883.0L1164.0,882.1L1164.1,881.1L1165.1,880.2L1165.6,879.2L1164.4,878.0L1163.6,876.9L1164.8,876.0L1165.4,875.1L1165.9,874.2L1166.0,873.1L1163.7,871.8L1164.1,870.8L1164.5,869.9L1163.8,868.7L1165.9,868.0L1166.8,867.1L1165.3,865.9L1165.1,864.8L1166.6,864.0L1165.7,862.9L1167.9,862.2L1168.0,861.2L1165.4,859.8L1166.1,858.9L1166.9,858.0L1167.8,857.1L1168.3,856.1L1166.3,854.8L1168.4,854.1L1166.7,852.8L1167.4,851.9L1167.1,850.9L1169.1,850.2L1169.4,849.2L1168.4,847.9L1169.6,847.1L1169.0,845.9L1169.4,844.9L1169.1,843.8L1167.8,842.5L1168.5,841.6L1168.2,840.4L1168.7,839.5L1171.9,839.1L1170.5,837.8L1169.6,836.5L1171.3,835.8L1172.7,835.0L1170.1,833.4L1171.7,832.7L1174.2,832.2L1173.6,831.0L1171.4,829.5L1174.2,829.0L1171.8,827.4L1173.4,826.7L1172.5,825.5L1173.8,824.7L1173.4,823.6L1175.0,822.9L1174.2,821.7L1174.6,820.7L1176.7,820.2L1177.1,819.2L1175.8,817.9L1176.5,817.0L1175.0,815.6L1177.9,815.2L1175.1,813.5L1177.2,813.0L1176.2,811.7L1176.6,810.7L1177.1,809.8L1177.8,808.9L1179.5,808.3L1177.1,806.6L1177.4,805.7L1177.4,804.6L1180.1,804.2L1178.7,802.8L1180.5,802.2L1179.8,801.0L1180.5,800.2L1179.3,798.6L1180.8,798.1L1182.9,797.7L1181.2,796.0L1183.3,795.6L1182.1,794.1L1183.1,793.3L1184.3,792.7L1182.9,791.1L1182.7,789.9L1183.8,789.2L1184.2,788.2L1184.3,787.1L1183.6,785.8L1183.6,784.7L1186.8,784.7L1184.1,783.8L1187.6,783.9L1185.6,785.5L1185.9,786.4L1187.2,787.1L1186.3,788.4L1185.7,789.6L1186.7,790.4L1187.8,791.1L1188.2,792.1L1188.6,793.0L1188.8,794.0L1188.0,795.2L1189.2,795.9L1188.6,797.1L1188.7,798.1L1190.2,798.8L1188.9,800.1L1191.3,800.6L1191.9,801.5L1191.8,802.5L1191.4,803.7L1191.0,804.8L1190.6,805.9L1191.8,806.7L1190.3,807.9L1192.0,808.7L1192.7,809.7L1191.8,810.8L1192.4,811.8L1192.3,812.9L1192.1,813.9L1193.5,814.8L1193.4,815.8L1193.9,816.8L1192.8,818.0L1191.5,819.2L1193.0,819.9L1193.9,819.1L1192.0,817.6L1195.7,817.4L1195.5,816.3L1195.8,815.3L1193.1,813.6L1195.0,813.0L1196.1,812.2L1196.8,811.3L1196.9,810.3L1197.2,809.3L1198.3,808.5L1198.2,807.4L1197.9,806.3L1196.6,804.9L1197.0,803.9L1196.5,802.7L1196.3,801.6L1198.6,801.1L1196.7,799.6L1198.1,798.9L1197.4,797.6L1197.6,796.7L1199.1,796.1L1199.9,795.2L1199.3,794.0L1200.3,793.2L1200.2,792.2L1201.0,791.4L1199.3,789.8L1201.0,789.3L1202.6,788.7L1201.5,787.3L1201.4,786.3L1203.4,785.8L1203.8,784.8L1201.6,783.2L1204.8,783.0L1203.4,781.6L1203.6,780.6L1203.2,779.5L1204.2,778.7L1205.5,778.0L1203.9,776.5L1206.7,776.3L1206.4,775.1L1207.5,774.4L1205.1,772.7L1206.1,771.9L1206.6,771.0L1207.0,770.2L1207.1,769.1L1206.4,767.6L1208.5,767.5L1209.7,766.9L1209.6,765.8L1209.8,764.7L1209.8,763.6L1209.5,762.3L1210.1,761.5L1212.9,761.8L1212.0,760.2L1211.3,758.6L1211.6,757.6L1214.2,758.0L1212.5,755.8L1214.5,755.8L1215.5,755.3L1216.6,754.8L1214.5,752.3L1215.4,751.7L1218.0,752.0L1216.8,750.2L1217.1,749.2L1218.3,748.7L1218.7,747.8L1218.2,747.2L1220.7,747.7L1219.5,749.0L1218.4,750.3L1219.7,751.0L1218.4,752.3L1218.6,753.3L1219.6,754.1L1221.2,754.8L1222.7,755.5L1221.9,756.7L1221.9,757.8L1220.0,759.2L1221.2,759.9L1222.1,760.8L1223.0,761.6L1223.4,762.6L1224.1,763.5L1223.3,764.6L1222.0,765.9L1224.0,766.6L1224.5,767.5L1223.0,768.9L1224.9,769.5L1225.8,770.4L1226.0,771.4L1225.6,772.6L1225.0,773.7L1223.9,775.1L1226.1,775.6L1225.0,776.9L1227.4,777.5L1227.4,778.5L1227.3,779.6L1228.0,780.5L1227.9,781.6L1227.1,782.8L1227.0,783.9L1226.7,785.1L1225.8,786.3L1228.0,786.9L1226.6,788.3L1227.1,789.2L1229.6,789.6L1227.0,791.4L1230.3,791.5L1228.2,793.2L1228.1,794.3L1231.3,794.4L1231.0,795.6L1229.6,797.0L1232.3,797.3L1230.7,798.8L1232.4,799.4L1231.2,800.8L1232.0,801.8L1233.2,801.1L1230.9,799.2L1233.6,799.1L1233.7,798.0L1233.0,796.7L1233.5,795.8L1235.3,795.3L1232.8,793.4L1236.4,793.6L1235.1,792.0L1237.3,791.7L1236.1,790.2L1235.6,788.9L1236.6,788.1L1235.6,786.7L1238.2,786.6L1236.6,784.9L1237.1,784.0L1237.6,782.4L1238.0,781.2L1241.1,783.4L1240.3,780.7L1241.6,780.6L1241.4,778.7L1243.6,779.6L1243.9,778.3L1244.0,776.8L1246.2,777.8L1247.0,777.9L1247.6,775.7L1249.1,777.0L1250.0,775.8L1250.7,773.9L1252.1,774.8L1253.0,775.1L1253.3,776.2L1255.7,776.0L1254.4,777.9L1255.5,778.5L1254.7,780.2L1255.5,780.9L1255.9,781.9L1258.2,781.8L1258.1,783.0L1259.2,783.6L1258.0,785.5L1259.5,785.8L1262.1,785.6L1261.1,787.3L1262.1,787.9L1260.3,790.0L1262.2,790.2L1262.4,791.3L1263.6,791.8L1264.6,792.5L1262.8,794.5L1263.5,795.3L1265.2,795.6L1265.8,796.5L1266.9,797.1L1266.1,798.7L1266.3,799.7L1266.9,800.5L1266.0,802.2L1268.4,802.1L1267.4,803.7L1267.4,804.8L1271.0,804.5L1269.8,806.1L1270.4,807.0L1271.2,807.9L1270.7,809.2L1272.7,809.5L1273.1,810.5L1270.6,812.6L1272.2,813.1L1271.6,814.5L1274.4,814.5L1274.4,815.7L1274.3,816.8L1273.0,818.5L1273.3,819.5L1273.9,820.5L1275.4,821.0L1275.9,821.9L1277.5,822.4L1277.5,823.6L1278.1,824.5L1277.0,826.1L1279.0,826.4L1277.9,828.0L1277.2,829.4L1280.5,829.2L1280.3,830.4L1279.8,831.7L1281.5,832.2L1280.8,833.6L1281.1,834.7L1283.0,835.0L1281.4,837.3L1282.5,837.8L1283.8,837.5L1285.3,836.7L1285.3,839.8L1286.3,840.1L1288.2,838.4L1289.3,838.8L1290.0,840.0L1291.6,839.5L1289.1,837.5L1290.7,837.0L1290.1,835.7L1293.4,835.8L1291.8,834.2L1292.5,833.3L1291.9,832.0L1292.4,831.1L1293.7,830.5L1294.5,829.8L1294.4,828.7L1295.8,828.1L1294.8,826.7L1295.4,825.7L1294.7,824.6L1295.3,823.6L1295.0,822.5L1297.1,821.7L1294.5,820.4L1296.6,819.6L1297.3,818.6L1297.1,817.6L1295.1,816.3L1296.6,815.4L1296.8,814.4L1297.5,813.5L1297.6,812.4L1298.4,811.5L1295.9,810.1L1296.9,809.2L1298.2,808.3L1298.2,807.3L1296.8,806.1L1299.2,805.3L1297.6,804.1L1298.7,803.2L1296.7,801.9L1299.7,801.2L1297.8,799.7L1299.8,799.6L1299.2,798.1L1300.7,797.6L1298.7,795.5L1301.5,795.7L1301.7,794.6L1302.8,793.9L1302.4,792.5L1303.5,791.9L1304.8,791.4L1303.2,789.4L1304.1,788.6L1305.5,788.2L1306.0,786.2L1304.6,788.1L1305.9,788.6L1306.6,789.5L1307.7,790.1L1308.8,790.7L1306.1,793.3L1306.5,794.3L1308.8,794.3L1309.6,795.1L1308.3,797.0L1310.1,797.3L1310.4,798.3L1311.0,799.2L1312.0,799.9L1310.6,801.3L1311.8,802.1L1313.7,802.7L1312.0,804.1L1312.4,805.1L1314.6,805.6L1314.4,806.7L1313.3,808.0L1314.1,808.9L1312.3,810.3L1313.7,811.0L1314.3,812.0L1313.6,813.2L1315.5,813.7L1314.8,815.0L1317.5,815.4L1315.5,816.9L1316.4,817.7L1315.9,818.9L1317.9,819.4L1316.5,820.9L1317.7,821.6L1316.0,823.1L1315.9,824.1L1316.3,825.1L1317.2,825.9L1317.8,826.9L1318.6,827.7L1319.6,828.4L1320.3,829.3L1318.9,831.0L1320.2,831.6L1320.5,832.6L1322.1,833.1L1319.6,835.3L1320.0,836.3L1323.0,836.1L1322.9,837.3L1324.0,839.2L1325.2,839.1L1325.1,837.3L1325.8,836.5L1327.1,836.4L1326.5,833.9L1328.7,835.1L1330.2,835.3L1329.0,833.1L1329.5,832.2L1330.7,831.4L1328.7,830.0L1331.2,829.4L1331.1,828.4L1329.3,827.0L1332.7,826.7L1329.8,825.1L1332.9,824.7L1330.1,823.1L1332.5,822.5L1331.7,821.4L1331.2,820.3L1331.4,819.3L1334.4,818.8L1331.5,817.3L1334.8,816.9L1334.7,815.8L1334.3,814.7L1333.1,813.5L1335.0,812.8L1332.4,811.3L1333.4,810.5L1335.7,809.9L1333.2,808.4L1333.7,807.5L1336.2,807.1L1333.5,805.2L1336.2,804.9L1336.7,804.0L1337.4,803.1L1337.3,802.0L1337.9,801.1L1337.2,799.9L1338.6,799.2L1337.3,797.7L1337.1,796.6L1338.4,795.9L1339.5,795.2L1340.0,794.3L1340.2,793.3L1339.6,792.0L1338.9,790.7L1341.0,789.0L1342.0,789.4L1341.0,792.0L1342.2,792.2L1342.3,793.6L1342.7,794.7L1344.4,794.6L1344.8,795.6L1346.2,795.7L1345.7,796.0L1347.6,796.0L1346.9,794.2L1347.7,793.4L1349.6,793.4L1349.0,791.7L1351.0,791.7L1349.9,789.7L1350.8,789.0L1350.8,787.6L1351.9,787.1L1354.4,786.9L1354.9,786.0L1353.8,784.7L1351.9,783.2L1352.0,782.2L1352.6,781.2L1353.4,780.3L1354.5,779.5L1353.9,778.3L1354.0,777.3L1355.0,776.4L1357.0,775.8L1357.8,774.9L1356.3,773.5L1358.0,772.8L1357.4,771.6L1355.3,770.1L1355.0,769.0L1356.3,768.2L1358.6,767.6L1358.7,766.6L1357.8,765.3L1359.6,764.6L1357.3,762.5L1358.1,761.8L1359.8,761.8L1360.5,761.0L1362.0,760.8L1360.5,758.2L1363.5,759.3L1362.8,757.3L1363.8,756.8L1363.7,755.3L1364.2,755.5L1366.8,755.2L1365.2,757.3L1366.2,757.9L1367.9,758.1L1368.3,759.1L1369.2,759.7L1368.9,761.1L1368.6,762.5L1367.9,764.1L1370.3,763.9L1369.6,765.5L1371.3,765.8L1373.2,766.0L1370.5,768.4L1371.0,769.2L1371.0,770.3L1371.4,771.3L1374.3,771.2L1374.6,772.2L1375.9,772.7L1376.3,773.6L1373.8,775.8L1375.6,776.2L1375.1,777.5L1376.1,778.2L1375.9,779.4L1377.3,779.9L1378.9,780.3L1377.3,780.7L1378.5,780.4L1380.2,780.6L1379.7,778.5L1380.2,777.5L1383.4,779.1L1383.3,777.6L1384.9,777.6L1384.1,775.3L1384.9,774.6L1386.9,775.0L1386.7,773.5L1387.8,772.5L1388.9,774.0L1390.0,774.8L1391.1,773.2L1392.2,774.4L1393.3,773.3L1394.4,774.1L1394.4,775.2L1393.0,776.4L1393.3,777.4L1394.1,778.3L1395.1,779.2L1393.4,780.5L1393.1,781.5L1394.0,782.4L1394.1,783.4L1395.5,784.2L1394.1,785.5L1395.4,786.3L1395.3,787.4L1395.3,788.4L1395.1,789.4L1395.3,790.4L1397.1,791.2L1397.7,792.1L1395.1,793.6L1395.5,794.5L1395.8,795.5L1397.3,796.3L1398.4,797.1L1398.8,798.1L1397.9,799.3L1398.1,800.2L1398.7,801.2L1397.1,802.5L1399.4,803.5L1397.0,802.0L1399.4,801.5L1399.3,800.4L1397.2,799.0L1400.0,798.5L1400.0,797.5L1400.5,796.6L1400.1,795.5L1401.1,794.6L1401.4,793.7L1399.6,792.3L1398.9,791.2L1401.7,790.7L1400.2,789.4L1401.9,788.7L1400.2,787.3L1402.2,786.7L1400.2,785.3L1403.0,784.8L1403.5,783.9L1402.2,782.6L1401.2,781.4L1401.2,780.4L1404.2,779.9L1401.4,778.4L1403.7,777.8L1402.1,776.4L1402.3,775.3L1404.3,774.9L1405.5,774.1L1404.7,772.8L1403.6,771.4L1402.9,770.2L1403.6,769.3L1406.9,769.2L1407.6,768.3L1406.3,766.9L1405.0,765.4L1407.6,765.1L1407.4,764.0L1408.1,763.1L1407.8,762.0L1407.9,760.9L1409.1,760.3L1408.8,759.1L1410.8,758.7L1409.0,757.1L1408.0,755.6L1409.9,755.2L1411.8,754.8L1411.1,753.5L1412.4,752.9L1409.9,751.0L1410.4,750.1L1410.8,749.2L1412.0,748.5L1412.0,747.5L1413.8,747.0L1413.3,745.8L1413.1,744.7L1415.1,744.3L1414.6,743.1L1414.9,742.1L1414.6,740.9L1415.2,740.0L1415.9,739.2L1415.8,738.1L1415.9,737.1L1416.7,736.3L1417.1,735.4L1416.4,734.1L1416.4,733.0L1416.6,732.1L1417.5,731.3L1418.8,730.6L1417.8,729.2L1419.3,728.6L1417.7,727.1L1417.8,726.1L1419.8,725.6L1419.8,724.6L1418.4,723.1L1418.3,722.0L1419.4,721.3L1422.0,721.0L1421.5,719.8L1421.1,718.6L1420.1,717.3L1420.9,716.3L1422.2,715.8L1423.1,715.0L1422.0,713.3L1421.9,712.1L1422.9,711.3L1422.8,710.1L1424.1,709.6L1426.5,709.5L1427.2,708.7L1426.9,707.4L1426.3,705.9L1428.3,705.7L1426.8,703.7L1428.3,703.6L1429.3,703.1L1430.4,702.3L1431.5,702.8L1432.5,702.6L1433.5,704.7L1434.6,702.6L1435.7,703.8L1436.5,704.9L1437.8,702.6L1438.6,704.4L1439.9,702.5L1440.7,704.3L1442.0,702.9L1443.0,702.6L1443.7,705.2L1444.8,705.4L1445.8,705.3L1447.0,704.3L1448.1,703.4L1449.0,705.0L1450.3,704.3L1450.5,706.5L1452.3,704.9L1453.2,705.3L1454.3,705.4L1454.7,707.1L1455.4,708.1L1456.3,708.7L1458.2,706.8L1458.6,708.6L1460.3,707.1L1460.1,710.4L1461.5,709.7L1462.7,709.5L1463.2,708.4L1464.4,711.0L1465.5,712.4L1466.5,712.1L1467.5,711.9L1468.6,711.6L1469.6,710.4L1470.6,709.3L1471.7,711.3L1472.6,709.0L1473.7,708.6L1474.9,712.3L1475.8,710.1L1476.8,708.9L1478.0,711.3L1479.0,711.6L1479.5,710.3L1479.7,711.3L1479.9,712.3L1482.6,712.1L1482.1,713.5L1482.5,714.4L1484.4,714.6L1481.8,717.1L1483.6,717.3L1484.5,718.0L1484.5,719.1L1485.1,720.0L1485.5,720.9L1485.4,722.0L1485.7,723.0L1486.1,723.9L1486.1,725.0L1485.4,726.3L1488.4,726.5L1486.6,728.1L1486.5,729.2L1487.0,730.1L1489.9,730.3L1487.7,732.0L1487.9,733.1L1490.1,733.5L1488.2,735.1L1490.7,735.4L1491.2,735.5L1491.2,736.9L1491.7,737.8L1491.1,739.9L1492.2,740.2L1494.5,739.4L1493.7,741.6L1494.5,742.2L1495.6,742.6L1496.8,742.8L1496.5,744.5L1497.3,745.1L1498.0,745.9L1499.8,745.5L1499.0,747.9L1500.9,747.3L1500.9,749.0L1502.9,748.2L1503.5,749.1L1503.7,750.5L1504.4,751.4L1506.3,750.7L1506.0,752.7L1507.8,752.3L1508.2,753.0L1509.8,754.3L1510.5,752.5L1511.1,750.3L1512.9,752.3L1515.2,751.8L1512.4,750.6L1514.1,749.7L1514.4,748.6L1513.4,747.6L1513.0,746.5L1512.4,745.5L1515.6,744.6L1513.3,743.5L1514.8,742.5L1514.0,741.4L1514.7,740.5L1515.2,739.5L1514.8,738.4L1513.8,737.3L1514.3,736.3L1514.2,735.3L1515.1,734.3L1513.9,733.2L1516.8,732.4L1513.4,731.2L1514.4,730.2L1516.0,729.2L1513.9,728.1L1515.8,727.2L1514.6,726.1L1513.9,725.0L1515.5,724.1L1517.1,723.2L1514.0,722.0L1516.1,721.0L1514.8,719.9L1514.0,718.8L1516.5,718.1L1517.7,717.2L1517.5,716.1L1515.6,714.9L1516.2,714.0L1515.1,712.9L1517.2,712.1L1515.2,710.8L1517.2,710.1L1516.2,708.9L1516.5,707.9L1516.7,707.0L1516.3,705.9L1517.2,704.1L1518.4,706.1L1519.2,703.9L1520.3,704.1L1521.2,703.7L1522.3,704.8L1523.4,705.9L1524.3,704.3L1525.2,703.5L1526.3,705.0L1527.3,704.7L1528.3,703.9L1529.3,704.6L1530.3,704.2L1531.2,702.7L1532.3,704.5L1533.6,702.6L1534.1,705.1L1535.2,704.7L1536.4,704.0L1537.1,706.0L1538.5,704.0L1539.1,706.1L1540.1,706.4L1541.0,707.1L1542.4,705.3L1542.6,706.8L1544.2,706.7L1546.1,706.1L1545.2,708.9L1545.8,709.8L1547.1,710.0L1548.6,710.0L1549.7,710.4L1550.4,713.8L1551.4,713.4L1552.3,712.6L1553.3,712.2L1553.9,709.7L1555.0,710.2L1556.1,710.6L1557.0,709.4L1558.2,710.1L1559.3,710.7L1560.3,710.1L1561.1,708.7L1562.4,710.3L1563.6,708.9L1564.7,709.1L1565.1,710.2L1566.4,710.2L1567.7,710.1L1567.9,711.6L1568.7,712.2L1569.3,713.0L1571.3,712.0L1570.8,714.5L1570.1,714.0L1571.1,713.3L1574.1,714.0L1573.7,712.4L1574.5,711.6L1575.9,711.2L1574.7,709.2L1577.5,709.7L1576.1,707.4L1575.6,705.8L1576.5,705.1L1578.8,704.2L1579.7,704.6L1580.4,705.6L1580.3,707.8L1581.5,707.8L1583.3,706.7L1583.9,707.7L1584.8,708.3L1585.9,708.5L1586.5,709.5L1587.2,710.4L1587.9,711.3L1588.6,712.0L1590.0,711.0L1590.9,709.8L1592.0,710.6L1593.1,710.9L1594.1,710.2L1595.3,712.6L1596.2,709.5L1597.3,711.8L1598.5,713.1L1599.4,712.1L1600.4,710.1L1601.6,712.5L1602.5,710.1L1603.6,711.2L1604.6,710.1L1605.6,709.2L1606.7,710.7" stroke="#0f0" stroke-width="9.5"/>
<path d="M90.0,853.3C92.0,853.3 98.4,853.8 101.7,853.3C105.0,852.8 106.4,849.7 110.0,850.0C113.6,850.3 118.8,854.5 123.3,855.0C127.8,855.5 131.7,852.8 136.7,853.3C141.7,853.8 147.8,857.3 153.3,858.3C158.9,859.3 165.0,858.2 170.0,859.3C175.0,860.4 179.4,863.5 183.3,865.0C187.2,866.5 190.2,866.6 193.3,868.3C196.4,870.0 198.6,873.7 201.7,875.0C204.8,876.3 208.6,874.3 211.7,876.0C214.8,877.7 217.2,881.0 220.0,885.0C222.8,889.0 225.5,893.9 228.3,900.0C231.1,906.1 233.9,913.9 236.7,921.7C239.5,929.5 242.2,939.2 245.0,946.7C247.8,954.2 250.2,960.6 253.3,966.7C256.4,972.8 259.4,977.8 263.3,983.3C267.2,988.8 272.2,994.7 276.7,1000.0C281.1,1005.3 285.6,1010.8 290.0,1015.0C294.4,1019.2 298.3,1021.7 303.3,1025.0C308.3,1028.3 315.0,1031.7 320.0,1035.0C325.0,1038.3 328.9,1042.0 333.3,1045.0C337.8,1048.0 342.2,1050.3 346.7,1053.3C351.1,1056.2 355.8,1060.6 360.0,1062.7C364.2,1064.8 367.8,1065.8 371.7,1066.0C375.6,1066.2 377.5,1065.7 383.3,1064.0C389.1,1062.3 399.5,1059.3 406.7,1056.0C413.9,1052.7 419.5,1048.6 426.7,1044.0C433.9,1039.4 442.8,1033.0 450.0,1028.3C457.2,1023.6 463.3,1019.0 470.0,1016.0C476.7,1013.0 483.9,1012.4 490.0,1010.0C496.1,1007.6 502.2,1004.8 506.7,1001.7C511.1,998.7 513.9,993.9 516.7,991.7C519.5,989.5 521.1,988.3 523.3,988.3C525.5,988.3 527.8,990.6 530.0,991.7C532.2,992.8 534.5,995.8 536.7,995.0C538.9,994.2 540.0,991.7 543.3,986.7C546.6,981.7 551.7,971.4 556.7,965.0C561.7,958.6 567.8,953.3 573.3,948.3C578.8,943.3 585.0,938.6 590.0,935.0C595.0,931.4 598.8,929.8 603.3,926.7C607.8,923.7 610.6,920.3 616.7,916.7C622.8,913.1 632.2,908.3 640.0,905.0C647.8,901.7 655.5,899.8 663.3,896.7C671.1,893.7 678.9,890.6 686.7,886.7C694.5,882.8 701.7,878.3 710.0,873.3C718.3,868.3 727.8,861.4 736.7,856.7C745.6,852.0 755.0,848.6 763.3,845.0C771.6,841.4 780.3,838.0 786.7,835.0C793.1,832.0 797.3,828.7 801.7,827.3C806.1,825.9 806.9,826.5 813.3,826.7C819.7,826.9 832.8,827.2 840.0,828.3C847.2,829.4 851.7,831.8 856.7,833.3C861.7,834.8 865.0,836.5 870.0,837.3C875.0,838.1 880.6,838.4 886.7,838.3C892.8,838.2 900.0,836.7 906.7,836.7C913.4,836.7 920.0,837.3 926.7,838.3C933.4,839.3 940.0,840.8 946.7,842.7C953.4,844.7 960.0,846.6 966.7,850.0C973.4,853.4 980.0,857.8 986.7,863.3C993.4,868.8 1000.6,876.1 1006.7,883.3C1012.8,890.5 1018.3,898.4 1023.3,906.7C1028.3,915.0 1032.2,923.3 1036.7,933.3C1041.2,943.3 1045.8,955.6 1050.0,966.7C1054.2,977.8 1058.1,989.5 1061.7,1000.0C1065.3,1010.5 1068.7,1020.5 1071.7,1030.0C1074.8,1039.5 1077.5,1049.5 1080.0,1056.7C1082.5,1063.9 1084.2,1068.6 1086.7,1073.0C1089.2,1077.4 1092.0,1080.7 1095.0,1083.0C1098.0,1085.3 1101.7,1086.6 1105.0,1087.0C1108.3,1087.4 1112.0,1087.2 1115.0,1085.5C1118.0,1083.8 1120.8,1079.1 1123.3,1077.0C1125.8,1074.9 1127.5,1072.6 1130.0,1073.0C1132.5,1073.4 1135.2,1077.2 1138.3,1079.3C1141.3,1081.4 1145.0,1084.5 1148.3,1085.5C1151.6,1086.5 1155.2,1086.5 1158.3,1085.0C1161.4,1083.5 1163.6,1081.4 1166.7,1076.7C1169.8,1072.0 1173.4,1063.4 1176.7,1056.7C1180.0,1050.0 1183.4,1043.1 1186.7,1036.7C1190.0,1030.3 1193.7,1023.3 1196.7,1018.3C1199.8,1013.3 1202.8,1011.4 1205.0,1006.7C1207.2,1002.0 1208.6,994.2 1210.0,990.0C1211.4,985.8 1212.1,981.2 1213.3,981.7C1214.5,982.2 1215.9,987.5 1217.3,993.3C1218.7,999.1 1220.2,1011.1 1221.7,1016.7C1223.2,1022.3 1224.3,1027.8 1226.0,1026.7C1227.7,1025.6 1229.4,1015.3 1231.7,1010.0C1234.0,1004.7 1237.2,998.5 1240.0,995.0C1242.8,991.5 1245.8,988.8 1248.3,989.3C1250.8,989.8 1252.5,992.6 1255.0,998.3C1257.5,1004.0 1260.2,1015.2 1263.3,1023.3C1266.3,1031.4 1270.2,1040.3 1273.3,1046.7C1276.4,1053.1 1279.6,1058.7 1281.7,1061.7C1283.8,1064.8 1284.3,1066.4 1286.0,1065.0C1287.7,1063.6 1289.9,1059.7 1291.7,1053.3C1293.5,1046.9 1295.0,1033.9 1296.7,1026.7C1298.4,1019.5 1299.5,1013.5 1301.7,1010.0C1303.9,1006.5 1307.2,1007.2 1310.0,1006.0C1312.8,1004.8 1315.2,1002.3 1318.3,1002.7C1321.3,1003.1 1324.7,1007.6 1328.3,1008.3C1331.9,1009.0 1336.9,1008.1 1340.0,1006.7C1343.1,1005.3 1344.8,1004.5 1346.7,1000.0C1348.7,995.5 1350.0,987.2 1351.7,980.0C1353.4,972.8 1355.3,961.4 1356.7,956.7C1358.1,952.0 1358.8,950.6 1360.0,951.7C1361.2,952.8 1362.6,956.4 1364.0,963.3C1365.4,970.2 1366.8,983.8 1368.3,993.3C1369.8,1002.8 1371.7,1014.7 1373.3,1020.0C1374.9,1025.3 1375.8,1026.1 1377.7,1025.0C1379.7,1023.9 1382.7,1019.7 1385.0,1013.3C1387.3,1006.9 1389.8,996.1 1391.7,986.7C1393.7,977.3 1395.0,965.6 1396.7,956.7C1398.4,947.8 1399.5,940.0 1401.7,933.3C1403.9,926.6 1407.2,923.4 1410.0,916.7C1412.8,910.0 1415.8,902.8 1418.3,893.3C1420.8,883.8 1423.0,867.2 1425.0,860.0C1427.0,852.8 1427.5,853.9 1430.0,850.0C1432.5,846.1 1437.2,840.0 1440.0,836.7C1442.8,833.4 1444.8,830.0 1446.7,830.0C1448.7,830.0 1450.0,832.2 1451.7,836.7C1453.4,841.2 1455.0,852.3 1456.7,856.7C1458.4,861.1 1459.5,863.2 1461.7,863.3C1463.9,863.4 1467.8,855.6 1470.0,857.3C1472.2,859.0 1473.5,865.6 1475.0,873.3C1476.5,881.0 1477.9,892.7 1479.3,903.3C1480.7,913.9 1481.8,928.6 1483.3,936.7C1484.8,944.8 1486.6,950.6 1488.3,951.7C1490.0,952.8 1491.6,946.1 1493.3,943.3C1495.0,940.5 1496.3,934.7 1498.3,935.0C1500.2,935.3 1501.9,939.2 1505.0,945.0C1508.1,950.8 1512.5,961.4 1516.7,970.0C1520.9,978.6 1526.1,989.5 1530.0,996.7C1533.9,1003.9 1537.2,1010.0 1540.0,1013.3C1542.8,1016.6 1543.9,1016.7 1546.7,1016.7C1549.5,1016.7 1553.4,1014.5 1556.7,1013.3C1560.0,1012.1 1562.8,1010.0 1566.7,1009.3C1570.6,1008.6 1576.7,1010.0 1580.0,1009.3C1583.3,1008.6 1583.9,1007.9 1586.7,1005.0C1589.5,1002.1 1593.4,995.4 1596.7,991.7C1600.0,988.0 1605.0,984.2 1606.7,982.7" stroke="#00f" stroke-width="8.8"/>
</g>
<g fill="none" stroke="#808080" stroke-width="8.6" stroke-linecap="round">
<path d="M555.4,266.4L555.60,915.5" stroke-dasharray="0 16.630"/>
<path d="M586.6,266.4L586.70,848.9" stroke-dasharray="0 16.630"/>
</g>
<g fill="none" stroke-linejoin="round" stroke-linecap="round" clip-path="url(#cp)">
<path d="M90.0,226.7C93.3,226.5 103.3,226.5 110.0,225.7C116.7,224.9 121.7,222.5 130.0,221.7C138.3,220.9 149.4,221.1 160.0,220.7C170.6,220.3 185.5,219.6 193.3,219.3C201.1,219.0 202.5,218.5 206.7,218.7C210.9,218.9 215.0,219.6 218.3,220.7C221.6,221.8 222.8,223.7 226.7,225.0C230.6,226.3 236.1,228.0 241.7,228.3C247.2,228.6 255.6,226.7 260.0,226.7C264.4,226.7 265.0,227.1 268.3,228.3C271.6,229.5 276.4,232.8 280.0,234.0C283.6,235.2 286.1,235.5 290.0,235.7C293.9,235.9 300.0,234.3 303.3,235.0C306.6,235.7 307.8,237.8 310.0,240.0C312.2,242.2 315.0,246.5 316.7,248.3C318.4,250.1 318.6,251.0 320.0,250.7C321.4,250.4 323.1,249.3 325.0,246.7C326.9,244.1 329.2,237.8 331.7,235.0C334.2,232.2 336.4,231.1 340.0,230.0C343.6,228.9 346.6,228.9 353.3,228.7C360.0,228.5 371.1,228.6 380.0,228.7C388.9,228.8 399.5,228.8 406.7,229.3C413.9,229.8 418.3,230.5 423.3,231.7C428.3,232.9 431.7,235.4 436.7,236.7C441.7,238.0 448.3,238.8 453.3,239.3C458.3,239.9 462.2,238.9 466.7,240.0C471.1,241.1 476.1,243.1 480.0,246.0C483.9,248.9 486.8,252.5 490.0,257.5C493.2,262.5 496.6,269.4 499.0,276.0C501.4,282.6 502.9,287.7 504.5,297.0C506.1,306.3 507.4,318.2 508.3,332.0C509.2,345.8 509.3,364.2 510.0,380.0C510.7,395.8 511.5,414.5 512.3,426.7C513.1,438.9 514.1,447.5 515.0,453.3C515.9,459.1 516.6,461.7 517.7,461.7C518.8,461.7 520.7,458.0 521.7,453.3C522.8,448.6 523.2,438.7 524.0,433.3C524.8,427.9 525.7,421.8 526.7,420.7C527.7,419.6 528.8,421.3 530.0,426.7C531.2,432.1 532.6,443.9 534.0,453.3C535.4,462.7 537.0,477.0 538.3,483.3C539.6,489.6 539.9,489.3 541.7,491.0C543.5,492.7 546.6,492.8 549.0,493.5C551.4,494.2 553.6,495.1 556.0,495.0C558.4,494.9 561.1,494.9 563.3,492.8C565.5,490.7 567.0,485.8 569.0,482.5C571.0,479.2 573.2,472.8 575.0,473.3C576.8,473.8 578.0,482.3 580.0,485.5C582.0,488.7 584.7,492.1 586.7,492.5C588.7,492.9 590.6,492.9 592.0,488.0C593.4,483.1 594.0,475.8 595.0,463.3C596.0,450.9 597.2,430.0 598.3,413.3C599.4,396.6 600.4,377.7 601.7,363.3C603.0,348.9 604.3,337.8 606.0,326.7C607.7,315.6 609.7,305.0 611.7,296.7C613.7,288.4 615.6,282.0 618.0,276.7C620.4,271.4 623.7,267.3 626.0,265.0C628.3,262.7 629.7,262.5 631.7,262.7C633.8,262.9 636.1,266.4 638.3,266.0C640.5,265.6 643.0,261.4 645.0,260.0C647.0,258.6 647.8,257.0 650.0,257.3C652.2,257.6 655.8,260.7 658.3,261.7C660.8,262.7 662.5,263.9 665.0,263.3C667.5,262.7 670.2,260.5 673.3,258.3C676.3,256.1 680.0,252.4 683.3,250.0C686.6,247.6 688.8,245.8 693.3,244.0C697.8,242.2 705.0,240.4 710.0,239.3C715.0,238.2 718.3,238.6 723.3,237.3C728.3,236.0 735.0,232.9 740.0,231.7C745.0,230.5 747.2,230.1 753.3,230.0C759.4,229.9 768.9,230.9 776.7,231.0C784.5,231.1 792.2,230.5 800.0,230.7C807.8,230.9 816.1,232.4 823.3,232.3C830.5,232.2 837.2,230.5 843.3,230.0C849.4,229.5 853.9,229.2 860.0,229.3C866.1,229.4 872.8,230.5 880.0,230.7C887.2,230.9 896.6,230.3 903.3,230.7C910.0,231.1 915.0,232.2 920.0,233.3C925.0,234.4 929.1,236.5 933.3,237.3C937.5,238.1 941.1,238.7 945.0,238.3C948.9,237.9 952.0,235.4 956.7,235.0C961.4,234.6 967.8,235.6 973.3,236.0C978.8,236.4 985.5,237.2 990.0,237.3C994.5,237.4 997.0,236.2 1000.0,236.7C1003.0,237.1 1006.1,237.8 1008.3,240.0C1010.5,242.2 1011.9,245.8 1013.3,250.0C1014.7,254.2 1015.6,261.7 1016.7,265.0C1017.8,268.3 1019.0,270.6 1020.0,270.0C1021.0,269.4 1021.9,264.8 1022.7,261.7C1023.5,258.6 1023.8,253.4 1025.0,251.7C1026.2,250.0 1028.0,250.0 1030.0,251.7C1032.0,253.4 1034.5,257.0 1036.7,261.7C1038.9,266.4 1041.1,272.5 1043.3,280.0C1045.5,287.5 1048.0,296.7 1050.0,306.7C1052.0,316.7 1053.6,326.7 1055.0,340.0C1056.4,353.3 1057.3,370.0 1058.3,386.7C1059.2,403.4 1060.0,424.4 1060.7,440.0C1061.4,455.6 1062.0,470.8 1062.7,480.0C1063.4,489.2 1064.1,491.9 1065.0,495.0C1065.9,498.1 1066.6,498.6 1068.0,498.3C1069.4,498.0 1072.0,496.4 1073.3,493.3C1074.5,490.2 1074.7,487.8 1075.5,480.0C1076.3,472.2 1077.3,460.0 1078.3,446.7C1079.3,433.4 1080.3,415.3 1081.7,400.0C1083.1,384.7 1085.2,368.1 1086.7,355.0C1088.2,341.9 1089.4,331.4 1090.8,321.7C1092.2,312.0 1093.6,303.1 1095.0,296.7C1096.4,290.3 1097.7,286.4 1099.2,283.3C1100.7,280.2 1102.8,278.6 1104.2,278.3C1105.6,278.0 1106.5,278.1 1107.5,281.7C1108.5,285.3 1109.2,295.0 1110.0,300.0C1110.8,305.0 1111.7,310.6 1112.5,311.7C1113.3,312.8 1114.2,309.5 1115.0,306.7C1115.8,303.9 1116.5,299.4 1117.5,295.0C1118.5,290.6 1119.7,285.6 1120.8,280.0C1121.9,274.4 1123.0,266.0 1124.2,261.7C1125.5,257.4 1126.9,255.3 1128.3,254.2C1129.7,253.1 1131.4,252.7 1132.5,255.0C1133.6,257.4 1134.2,265.7 1135.0,268.3C1135.8,270.9 1136.7,271.4 1137.5,270.8C1138.3,270.2 1139.2,268.2 1140.0,265.0C1140.8,261.8 1141.1,254.8 1142.5,251.7C1143.9,248.6 1146.2,247.5 1148.3,246.7C1150.4,245.9 1152.5,246.0 1155.0,246.7C1157.5,247.4 1160.5,248.9 1163.3,250.8C1166.1,252.7 1169.5,255.4 1171.7,258.3C1173.9,261.2 1175.2,263.6 1176.7,268.3C1178.2,273.0 1179.7,279.2 1180.8,286.7C1181.9,294.2 1182.6,303.3 1183.3,313.3C1184.0,323.3 1184.5,335.6 1185.0,346.7C1185.5,357.8 1185.9,367.6 1186.2,380.0C1186.5,392.4 1186.7,408.5 1187.0,421.0C1187.3,433.5 1187.6,446.8 1188.0,455.0C1188.4,463.2 1188.8,467.8 1189.5,470.0C1190.2,472.2 1191.1,469.7 1192.0,468.0C1192.9,466.3 1194.0,464.7 1195.0,460.0C1196.0,455.3 1197.2,444.4 1198.3,440.0C1199.4,435.6 1200.6,437.8 1201.7,433.3C1202.8,428.9 1204.0,420.0 1205.0,413.3C1206.0,406.6 1206.8,396.9 1207.5,393.3C1208.2,389.8 1208.8,390.9 1209.5,392.0C1210.2,393.1 1211.0,399.5 1211.7,400.0C1212.4,400.5 1212.9,399.2 1213.5,395.0C1214.1,390.8 1214.7,381.4 1215.5,375.0C1216.3,368.6 1217.4,358.9 1218.3,356.7C1219.2,354.5 1220.0,356.4 1221.0,362.0C1222.0,367.6 1223.2,379.5 1224.2,390.0C1225.2,400.5 1226.0,417.6 1226.7,425.0C1227.4,432.4 1227.2,434.5 1228.3,434.2C1229.4,433.9 1231.3,426.8 1233.3,423.3C1235.2,419.8 1237.8,417.1 1240.0,413.3C1242.2,409.6 1244.8,401.6 1246.7,400.8C1248.7,400.0 1249.5,405.8 1251.7,408.3C1253.9,410.8 1257.5,413.3 1260.0,415.8C1262.5,418.3 1265.3,420.9 1266.7,423.3C1268.1,425.7 1266.9,428.1 1268.3,430.0C1269.7,431.9 1273.0,432.2 1275.0,435.0C1277.0,437.8 1278.5,442.5 1280.0,446.7C1281.5,450.9 1283.0,457.2 1284.2,460.0C1285.5,462.8 1286.0,463.9 1287.5,463.3C1289.0,462.8 1291.5,458.6 1293.3,456.7C1295.1,454.8 1296.6,451.7 1298.3,451.7C1300.0,451.7 1301.6,453.6 1303.3,456.7C1305.0,459.8 1306.6,465.8 1308.3,470.0C1310.0,474.2 1311.6,478.6 1313.3,481.7C1315.0,484.8 1316.3,487.5 1318.3,488.3C1320.2,489.1 1323.0,488.4 1325.0,486.7C1327.0,485.0 1328.5,483.0 1330.0,478.3C1331.5,473.6 1333.0,463.6 1334.2,458.3C1335.5,453.0 1336.2,447.5 1337.5,446.7C1338.8,445.9 1339.9,451.9 1341.7,453.3C1343.5,454.7 1346.4,456.1 1348.3,455.0C1350.2,453.9 1351.6,452.5 1353.3,446.7C1355.0,440.9 1356.8,427.8 1358.3,420.0C1359.8,412.2 1361.4,407.2 1362.5,400.0C1363.6,392.8 1363.9,382.8 1365.0,376.7C1366.1,370.6 1368.1,365.8 1369.2,363.3C1370.3,360.8 1370.9,361.1 1371.7,361.7C1372.5,362.3 1373.4,363.6 1374.2,366.7C1375.0,369.8 1375.5,377.5 1376.7,380.0C1378.0,382.5 1380.2,380.9 1381.7,381.7C1383.2,382.5 1384.7,381.1 1385.8,385.0C1386.9,388.9 1387.6,399.0 1388.3,405.0C1389.0,411.0 1389.6,410.7 1390.0,421.0C1390.4,431.3 1390.4,455.5 1390.8,466.7C1391.2,477.9 1391.7,483.4 1392.5,488.3C1393.3,493.2 1394.5,495.5 1395.8,495.8C1397.0,496.1 1399.0,494.9 1400.0,490.0C1401.0,485.1 1401.3,473.9 1402.0,466.7C1402.7,459.5 1403.3,451.0 1404.2,446.7C1405.1,442.4 1406.8,445.1 1407.5,440.8C1408.2,436.5 1408.3,428.4 1408.5,421.0C1408.7,413.6 1408.4,404.9 1408.5,396.7C1408.6,388.5 1408.7,379.2 1409.2,371.7C1409.7,364.2 1410.6,356.1 1411.7,351.7C1412.8,347.2 1414.4,345.0 1415.8,345.0C1417.2,345.0 1418.8,350.6 1420.0,351.7C1421.2,352.8 1422.2,354.5 1423.3,351.7C1424.4,348.9 1425.7,340.3 1426.7,335.0C1427.7,329.7 1428.1,323.3 1429.2,320.0C1430.3,316.7 1431.6,316.4 1433.3,315.0C1435.0,313.6 1437.5,311.1 1439.2,311.7C1440.9,312.2 1442.2,314.1 1443.3,318.3C1444.4,322.5 1444.8,333.4 1445.8,336.7C1446.8,340.0 1448.2,339.4 1449.2,338.3C1450.2,337.2 1451.0,333.6 1451.7,330.0C1452.4,326.4 1451.9,320.3 1453.3,316.7C1454.7,313.1 1457.8,311.9 1460.0,308.3C1462.2,304.7 1464.5,299.2 1466.7,295.0C1468.9,290.8 1471.4,285.7 1473.3,283.3C1475.2,280.9 1476.8,280.2 1478.3,280.8C1479.8,281.4 1481.1,283.5 1482.5,286.7C1483.9,289.9 1485.2,295.6 1486.7,300.0C1488.2,304.4 1490.0,307.8 1491.7,313.3C1493.4,318.9 1495.5,326.4 1496.7,333.3C1498.0,340.2 1498.5,347.2 1499.2,355.0C1499.9,362.8 1500.2,372.5 1500.8,380.0C1501.3,387.5 1501.8,395.7 1502.5,400.0C1503.2,404.3 1503.9,404.6 1505.0,405.8C1506.1,407.1 1508.0,407.9 1509.2,407.5C1510.5,407.1 1511.5,407.9 1512.5,403.3C1513.5,398.7 1514.0,389.4 1515.0,380.0C1516.0,370.6 1516.9,356.4 1518.3,346.7C1519.7,337.0 1521.8,329.5 1523.3,321.7C1524.8,313.9 1526.4,305.6 1527.5,300.0C1528.6,294.4 1528.9,290.7 1530.0,288.3C1531.1,285.9 1532.8,285.5 1534.2,285.8C1535.6,286.1 1536.5,287.4 1538.3,290.0C1540.1,292.6 1543.0,298.8 1545.0,301.7C1547.0,304.6 1548.5,307.8 1550.0,307.5C1551.5,307.2 1553.2,304.6 1554.2,300.0C1555.2,295.4 1555.1,285.0 1555.8,280.0C1556.5,275.0 1557.3,271.9 1558.3,270.0C1559.3,268.1 1560.3,267.9 1561.7,268.3C1563.1,268.7 1565.0,271.4 1566.7,272.5C1568.4,273.6 1570.2,275.4 1571.7,275.0C1573.2,274.6 1574.7,272.2 1575.8,270.0C1576.9,267.8 1577.3,263.5 1578.3,261.7C1579.3,259.9 1580.3,259.1 1581.7,259.2C1583.1,259.3 1584.8,261.7 1586.7,262.5C1588.6,263.3 1591.1,264.2 1593.3,264.2C1595.5,264.2 1597.9,263.1 1600.0,262.5C1602.1,261.9 1605.0,261.1 1606.0,260.8" stroke="#000" stroke-width="9.0"/>
</g>
<g fill="none" stroke="#808080" stroke-width="8.6" stroke-linecap="round">
<path d="M346.0,541.7L348.60,1091.0" stroke-dasharray="0 16.630"/>
<path d="M1074.6,258.0L1074.30,890.4" stroke-dasharray="0 16.630"/>
<path d="M1112.5,853.3L1114.40,1103.2" stroke-dasharray="0 16.630"/>
<path d="M1140.8,555.0L1141.70,871.5" stroke-dasharray="0 16.630"/>
<path d="M1156.0,854.3L1157.30,1104.2" stroke-dasharray="0 16.630"/>
<path d="M1172.0,555.0L1173.30,838.2" stroke-dasharray="0 16.630"/>
<path d="M1194.7,258.0L1194.40,823.9" stroke-dasharray="0 16.630"/>
<path d="M1232.2,261.2L1232.00,827.1" stroke-dasharray="0 16.630"/>
<path d="M1286.7,555.0L1288.30,838.2" stroke-dasharray="0 16.630"/>
<path d="M1398.7,275.0L1399.00,807.7" stroke-dasharray="0 16.630"/>
<path d="M1504.2,541.7L1507.00,758.4" stroke-dasharray="0 16.631"/>
</g>
<g stroke="#000" stroke-width="1.9" fill="#000">
<path d="M505.6,211.3L525.3,241.6" fill="none"/>
<path d="M541.3,266.4L518.8,245.9L531.8,237.4Z" stroke="none"/>
<path d="M644.2,213.8L620.9,235.6" fill="none"/>
<path d="M599.4,255.8L615.6,230.0L626.2,241.3Z" stroke="none"/>
<path d="M1011.7,200.7L1044.1,227.8" fill="none"/>
<path d="M1066.7,246.7L1039.1,233.7L1049.0,221.8Z" stroke="none"/>
<path d="M1163.3,200.0L1170.1,212.4" fill="none"/>
<path d="M1184.2,238.3L1163.3,216.1L1176.9,208.7Z" stroke="none"/>
<path d="M1286.7,218.0L1262.9,244.7" fill="none"/>
<path d="M1243.3,266.7L1257.1,239.5L1268.7,249.8Z" stroke="none"/>
<path d="M1465.0,232.0L1421.5,262.9" fill="none"/>
<path d="M1397.5,280.0L1417.0,256.6L1426.0,269.2Z" stroke="none"/>
<path d="M996.7,529.3L1095.3,549.2" fill="none"/>
<path d="M1124.2,555.0L1093.8,556.8L1096.8,541.6Z" stroke="none"/>
<path d="M1157.0,523.0L1158.9,527.7" fill="none"/>
<path d="M1170.0,555.0L1151.7,530.6L1166.1,524.8Z" stroke="none"/>
<path d="M1316.7,534.2L1308.2,541.6" fill="none"/>
<path d="M1285.8,560.8L1303.1,535.7L1313.2,547.4Z" stroke="none"/>
<path d="M1537.5,495.3L1519.3,519.7" fill="none"/>
<path d="M1501.7,543.3L1513.1,515.0L1525.5,524.3Z" stroke="none"/>
<path d="M278.9,1112.2L311.8,1084.3" fill="none"/>
<path d="M334.3,1065.2L316.8,1090.2L306.8,1078.4Z" stroke="none"/>
<path d="M1063.2,1114.7L1085.6,1106.6" fill="none"/>
<path d="M1113.3,1096.5L1088.2,1113.9L1082.9,1099.3Z" stroke="none"/>
<path d="M1239.3,1117.5L1200.0,1105.3" fill="none"/>
<path d="M1171.8,1096.5L1202.3,1097.9L1197.7,1112.7Z" stroke="none"/>
</g>
<g fill="none" stroke="#000" stroke-width="4.4" stroke-linecap="butt">
<rect x="90.25" y="20.2" width="1518.0" height="1169.1"/>
<path d="M90.25,1189.3v25.2"/>
<path d="M198.68,1189.3v14.2"/>
<path d="M307.11,1189.3v25.2"/>
<path d="M415.54,1189.3v14.2"/>
<path d="M523.96,1189.3v25.2"/>
<path d="M632.39,1189.3v14.2"/>
<path d="M740.82,1189.3v25.2"/>
<path d="M849.25,1189.3v14.2"/>
<path d="M957.68,1189.3v25.2"/>
<path d="M1066.11,1189.3v14.2"/>
<path d="M1174.54,1189.3v25.2"/>
<path d="M1282.96,1189.3v14.2"/>
<path d="M1391.39,1189.3v25.2"/>
<path d="M1499.82,1189.3v14.2"/>
<path d="M1608.25,1189.3v25.2"/>
</g>
<g font-family="'Liberation Serif', 'Times New Roman', serif" fill="#000">
<text x="437.4" y="202.2" font-size="62">2930</text>
<text x="602.4" y="202.2" font-size="62">2854</text>
<text x="935.6" y="196.7" font-size="62">1745</text>
<text x="1096.6" y="182.2" font-size="62">1456</text>
<text x="1239.8" y="201.7" font-size="62">1380</text>
<text x="1436.5" y="224.7" font-size="62">992</text>
<text x="897.3" y="516.7" font-size="62">1585</text>
<text x="1076.0" y="519.2" font-size="62">1498</text>
<text x="1250.3" y="533.8" font-size="62">1238</text>
<text x="1472.6" y="491.3" font-size="62">740</text>
<text x="236.4" y="1163.4" font-size="62">3410</text>
<text x="995.3" y="1164.2" font-size="62">1640</text>
<text x="1175.4" y="1167.6" font-size="62">1546</text>
<text x="90.2" y="1281" font-size="68" text-anchor="middle">4000</text>
<text x="307.1" y="1281" font-size="68" text-anchor="middle">3500</text>
<text x="524.0" y="1281" font-size="68" text-anchor="middle">3000</text>
<text x="740.8" y="1281" font-size="68" text-anchor="middle">2500</text>
<text x="957.7" y="1281" font-size="68" text-anchor="middle">2000</text>
<text x="1174.5" y="1281" font-size="68" text-anchor="middle">1500</text>
<text x="1391.4" y="1281" font-size="68" text-anchor="middle">1000</text>
<text x="1608.2" y="1281" font-size="68" text-anchor="middle">500</text>
<text x="310.8" y="107.2" font-size="68">Tung oil</text>
<text x="702.2" y="107.2" font-size="68">P<tspan dx="5">A</tspan></text>
<text x="950.3" y="107.2" font-size="68">% UF</text>
<text x="1281.5" y="107.2" font-size="68">MC(A&amp;T)</text>
<text x="574" y="1417.5" font-size="67">wavenumbers(cm<tspan x="1041.8" y="1384.2" font-size="61" stroke="#000" stroke-width="1.2">−</tspan><tspan x="1066.8" y="1387" font-size="70">1</tspan><tspan x="1101.9" y="1417.5">)</tspan></text>
</g>
<g fill="none" stroke-linecap="round" stroke-width="9.0">
<path d="M164.0,88.2H294.3" stroke="#000"/>
<path d="M556.8,88.2H686.3" stroke="#f00"/>
<path d="M805.5,88.2H935.0" stroke="#00f"/>
<path d="M1136.5,88.2H1267.0" stroke="#0f0"/>
</g>
</svg>
</body></html>
